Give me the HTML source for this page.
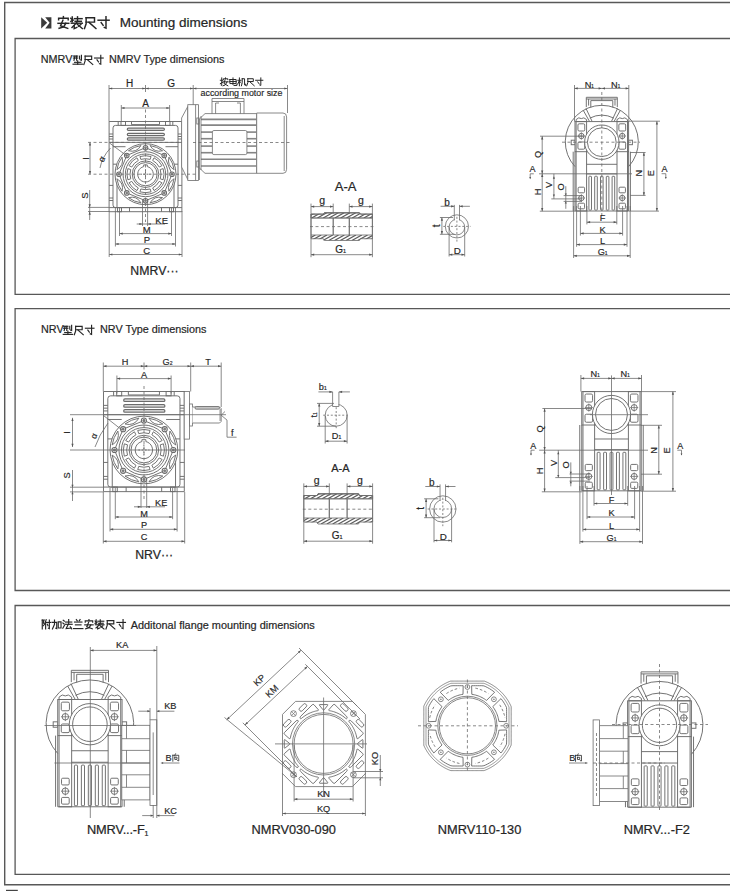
<!DOCTYPE html>
<html><head><meta charset="utf-8"><style>
html,body{margin:0;padding:0;background:#fff;width:730px;height:891px;overflow:hidden}
svg{display:block}
</style></head><body>
<svg width="730" height="891" viewBox="0 0 730 891" font-family="Liberation Sans, sans-serif">
<rect width="730" height="891" fill="#fff"/>
<path d="M 740 2.5 H 4.7 V 884.7 H 740" fill="none" stroke="#585858" stroke-width="1.4"/>
<path d="M 740 38.5 H 15.1 V 294.3 H 740" fill="none" stroke="#585858" stroke-width="1.3"/>
<path d="M 740 308.6 H 15.1 V 590.5 H 740" fill="none" stroke="#585858" stroke-width="1.3"/>
<path d="M 740 605.5 H 15.1 V 874.3 H 740" fill="none" stroke="#585858" stroke-width="1.3"/>
<rect x="6" y="889.8" width="11.8" height="2" fill="#444"/>
<path d="M41.2 17.2 L41.2 28.4 L47.2 22.8 Z" fill="#3a3a3a"/>
<path d="M45.2 17.2 L51.4 17.2 L51.4 28.4 L45.2 28.4 L49.6 22.8 Z" fill="#3a3a3a"/>
<polyline points="63.4,16.62 63.4,18.29" fill="none" stroke="#262626" stroke-width="1.45" stroke-linecap="square" stroke-linejoin="miter"/>
<polyline points="58.61,19.73 58.61,18.29 68.19,18.29 68.19,19.73" fill="none" stroke="#262626" stroke-width="1.45" stroke-linecap="square" stroke-linejoin="miter"/>
<polyline points="58.01,23.32 68.79,23.32" fill="none" stroke="#262626" stroke-width="1.45" stroke-linecap="square" stroke-linejoin="miter"/>
<polyline points="62.92,20.21 60.53,25.71 67.71,28.34" fill="none" stroke="#262626" stroke-width="1.45" stroke-linecap="square" stroke-linejoin="miter"/>
<polyline points="65.79,23.32 63.64,26.91 59.09,28.34" fill="none" stroke="#262626" stroke-width="1.45" stroke-linecap="square" stroke-linejoin="miter"/>
<polyline points="72.25,16.98 72.25,21.88" fill="none" stroke="#262626" stroke-width="1.45" stroke-linecap="square" stroke-linejoin="miter"/>
<polyline points="70.82,18.29 72.25,19.73" fill="none" stroke="#262626" stroke-width="1.45" stroke-linecap="square" stroke-linejoin="miter"/>
<polyline points="70.82,21.4 73.21,20.21" fill="none" stroke="#262626" stroke-width="1.45" stroke-linecap="square" stroke-linejoin="miter"/>
<polyline points="77.52,16.86 77.52,21.16" fill="none" stroke="#262626" stroke-width="1.45" stroke-linecap="square" stroke-linejoin="miter"/>
<polyline points="74.41,18.65 82.07,18.65" fill="none" stroke="#262626" stroke-width="1.45" stroke-linecap="square" stroke-linejoin="miter"/>
<polyline points="75.12,21.28 81.35,21.28" fill="none" stroke="#262626" stroke-width="1.45" stroke-linecap="square" stroke-linejoin="miter"/>
<polyline points="76.8,21.76 76.8,22.96" fill="none" stroke="#262626" stroke-width="1.45" stroke-linecap="square" stroke-linejoin="miter"/>
<polyline points="71.29,23.2 82.31,23.2" fill="none" stroke="#262626" stroke-width="1.45" stroke-linecap="square" stroke-linejoin="miter"/>
<polyline points="75.84,23.56 72.01,27.39" fill="none" stroke="#262626" stroke-width="1.45" stroke-linecap="square" stroke-linejoin="miter"/>
<polyline points="74.17,25.71 74.17,28.58 76.8,27.39" fill="none" stroke="#262626" stroke-width="1.45" stroke-linecap="square" stroke-linejoin="miter"/>
<polyline points="77.28,24.28 82.31,28.58" fill="none" stroke="#262626" stroke-width="1.45" stroke-linecap="square" stroke-linejoin="miter"/>
<polyline points="80.87,24.51 78.48,26.19" fill="none" stroke="#262626" stroke-width="1.45" stroke-linecap="square" stroke-linejoin="miter"/>
<polyline points="86.13,17.81 94.51,17.81 94.51,22.12 86.13,22.12" fill="none" stroke="#262626" stroke-width="1.45" stroke-linecap="square" stroke-linejoin="miter"/>
<polyline points="86.13,17.81 86.13,23.8 84.46,28.58" fill="none" stroke="#262626" stroke-width="1.45" stroke-linecap="square" stroke-linejoin="miter"/>
<polyline points="89,22.36 95.94,28.58" fill="none" stroke="#262626" stroke-width="1.45" stroke-linecap="square" stroke-linejoin="miter"/>
<polyline points="98.09,20.21 109.11,20.21" fill="none" stroke="#262626" stroke-width="1.45" stroke-linecap="square" stroke-linejoin="miter"/>
<polyline points="105.99,16.62 105.99,28.11 104.32,27.39" fill="none" stroke="#262626" stroke-width="1.45" stroke-linecap="square" stroke-linejoin="miter"/>
<polyline points="101.21,22.6 103.12,25.23" fill="none" stroke="#262626" stroke-width="1.45" stroke-linecap="square" stroke-linejoin="miter"/>
<text x="119.8" y="26.7" font-size="13.5" text-anchor="start" fill="#262626" stroke="#262626" stroke-width="0.22" font-family="Liberation Sans">Mounting dimensions</text>
<text x="40.8" y="62.8" font-size="10.8" text-anchor="start" fill="#262626" stroke="#262626" stroke-width="0.19" font-family="Liberation Sans">NMRV</text>
<polyline points="73.41,56.08 77.7,56.08" fill="none" stroke="#262626" stroke-width="1.15" stroke-linecap="square" stroke-linejoin="miter"/>
<polyline points="73.41,58.03 77.7,58.03" fill="none" stroke="#262626" stroke-width="1.15" stroke-linecap="square" stroke-linejoin="miter"/>
<polyline points="74.9,56.17 73.97,60.27" fill="none" stroke="#262626" stroke-width="1.15" stroke-linecap="square" stroke-linejoin="miter"/>
<polyline points="76.58,56.17 76.58,60.27" fill="none" stroke="#262626" stroke-width="1.15" stroke-linecap="square" stroke-linejoin="miter"/>
<polyline points="79.57,56.17 79.57,58.97" fill="none" stroke="#262626" stroke-width="1.15" stroke-linecap="square" stroke-linejoin="miter"/>
<polyline points="81.43,55.24 81.43,60.27 80.5,59.9" fill="none" stroke="#262626" stroke-width="1.15" stroke-linecap="square" stroke-linejoin="miter"/>
<polyline points="77.7,60.83 77.7,64.1" fill="none" stroke="#262626" stroke-width="1.15" stroke-linecap="square" stroke-linejoin="miter"/>
<polyline points="74.53,62.33 80.87,62.33" fill="none" stroke="#262626" stroke-width="1.15" stroke-linecap="square" stroke-linejoin="miter"/>
<polyline points="73.04,64.19 82.36,64.19" fill="none" stroke="#262626" stroke-width="1.15" stroke-linecap="square" stroke-linejoin="miter"/>
<polyline points="85.13,56.17 91.66,56.17 91.66,59.53 85.13,59.53" fill="none" stroke="#262626" stroke-width="1.15" stroke-linecap="square" stroke-linejoin="miter"/>
<polyline points="85.13,56.17 85.13,60.83 83.82,64.56" fill="none" stroke="#262626" stroke-width="1.15" stroke-linecap="square" stroke-linejoin="miter"/>
<polyline points="87.37,59.71 92.78,64.56" fill="none" stroke="#262626" stroke-width="1.15" stroke-linecap="square" stroke-linejoin="miter"/>
<polyline points="94.61,58.03 103.19,58.03" fill="none" stroke="#262626" stroke-width="1.15" stroke-linecap="square" stroke-linejoin="miter"/>
<polyline points="100.77,55.24 100.77,64.19 99.46,63.63" fill="none" stroke="#262626" stroke-width="1.15" stroke-linecap="square" stroke-linejoin="miter"/>
<polyline points="97.03,59.9 98.53,61.95" fill="none" stroke="#262626" stroke-width="1.15" stroke-linecap="square" stroke-linejoin="miter"/>
<text x="109" y="62.8" font-size="10.8" text-anchor="start" fill="#262626" stroke="#262626" stroke-width="0.19" font-family="Liberation Sans">NMRV Type dimensions</text>
<text x="41" y="333" font-size="10.8" text-anchor="start" fill="#262626" stroke="#262626" stroke-width="0.19" font-family="Liberation Sans">NRV</text>
<polyline points="63.61,326.28 67.9,326.28" fill="none" stroke="#262626" stroke-width="1.15" stroke-linecap="square" stroke-linejoin="miter"/>
<polyline points="63.61,328.23 67.9,328.23" fill="none" stroke="#262626" stroke-width="1.15" stroke-linecap="square" stroke-linejoin="miter"/>
<polyline points="65.1,326.37 64.17,330.47" fill="none" stroke="#262626" stroke-width="1.15" stroke-linecap="square" stroke-linejoin="miter"/>
<polyline points="66.78,326.37 66.78,330.47" fill="none" stroke="#262626" stroke-width="1.15" stroke-linecap="square" stroke-linejoin="miter"/>
<polyline points="69.77,326.37 69.77,329.17" fill="none" stroke="#262626" stroke-width="1.15" stroke-linecap="square" stroke-linejoin="miter"/>
<polyline points="71.63,325.44 71.63,330.47 70.7,330.1" fill="none" stroke="#262626" stroke-width="1.15" stroke-linecap="square" stroke-linejoin="miter"/>
<polyline points="67.9,331.03 67.9,334.3" fill="none" stroke="#262626" stroke-width="1.15" stroke-linecap="square" stroke-linejoin="miter"/>
<polyline points="64.73,332.53 71.07,332.53" fill="none" stroke="#262626" stroke-width="1.15" stroke-linecap="square" stroke-linejoin="miter"/>
<polyline points="63.24,334.39 72.56,334.39" fill="none" stroke="#262626" stroke-width="1.15" stroke-linecap="square" stroke-linejoin="miter"/>
<polyline points="75.63,326.37 82.16,326.37 82.16,329.73 75.63,329.73" fill="none" stroke="#262626" stroke-width="1.15" stroke-linecap="square" stroke-linejoin="miter"/>
<polyline points="75.63,326.37 75.63,331.03 74.32,334.76" fill="none" stroke="#262626" stroke-width="1.15" stroke-linecap="square" stroke-linejoin="miter"/>
<polyline points="77.87,329.91 83.28,334.76" fill="none" stroke="#262626" stroke-width="1.15" stroke-linecap="square" stroke-linejoin="miter"/>
<polyline points="85.41,328.23 93.99,328.23" fill="none" stroke="#262626" stroke-width="1.15" stroke-linecap="square" stroke-linejoin="miter"/>
<polyline points="91.57,325.44 91.57,334.39 90.26,333.83" fill="none" stroke="#262626" stroke-width="1.15" stroke-linecap="square" stroke-linejoin="miter"/>
<polyline points="87.83,330.1 89.33,332.15" fill="none" stroke="#262626" stroke-width="1.15" stroke-linecap="square" stroke-linejoin="miter"/>
<text x="100" y="333" font-size="10.8" text-anchor="start" fill="#262626" stroke="#262626" stroke-width="0.19" font-family="Liberation Sans">NRV Type dimensions</text>
<polyline points="42.27,620.1 42.27,628.96" fill="none" stroke="#262626" stroke-width="1.15" stroke-linecap="square" stroke-linejoin="miter"/>
<polyline points="42.27,620.1 44.13,620.1 43.2,622.43 44.51,624.3 43.2,625.79" fill="none" stroke="#262626" stroke-width="1.15" stroke-linecap="square" stroke-linejoin="miter"/>
<polyline points="46.19,619.64 44.88,623.37" fill="none" stroke="#262626" stroke-width="1.15" stroke-linecap="square" stroke-linejoin="miter"/>
<polyline points="45.63,622.06 45.63,628.96" fill="none" stroke="#262626" stroke-width="1.15" stroke-linecap="square" stroke-linejoin="miter"/>
<polyline points="46.56,622.43 50.66,622.43" fill="none" stroke="#262626" stroke-width="1.15" stroke-linecap="square" stroke-linejoin="miter"/>
<polyline points="49.36,620.01 49.36,628.59 48.43,628.22" fill="none" stroke="#262626" stroke-width="1.15" stroke-linecap="square" stroke-linejoin="miter"/>
<polyline points="47.31,624.3 48.05,625.79" fill="none" stroke="#262626" stroke-width="1.15" stroke-linecap="square" stroke-linejoin="miter"/>
<polyline points="52.08,622.43 56.74,622.43 56.74,628.59 55.81,628.22" fill="none" stroke="#262626" stroke-width="1.15" stroke-linecap="square" stroke-linejoin="miter"/>
<polyline points="54.5,620.01 54.5,624.3 52.45,628.96" fill="none" stroke="#262626" stroke-width="1.15" stroke-linecap="square" stroke-linejoin="miter"/>
<polyline points="58.23,621.87 61.03,621.87 61.03,628.03 58.23,628.03 58.23,621.87" fill="none" stroke="#262626" stroke-width="1.15" stroke-linecap="square" stroke-linejoin="miter"/>
<polyline points="63.19,620.2 64.31,621.13" fill="none" stroke="#262626" stroke-width="1.15" stroke-linecap="square" stroke-linejoin="miter"/>
<polyline points="62.82,622.99 63.94,623.93" fill="none" stroke="#262626" stroke-width="1.15" stroke-linecap="square" stroke-linejoin="miter"/>
<polyline points="62.82,628.22 64.5,625.23" fill="none" stroke="#262626" stroke-width="1.15" stroke-linecap="square" stroke-linejoin="miter"/>
<polyline points="65.61,622.06 71.77,622.06" fill="none" stroke="#262626" stroke-width="1.15" stroke-linecap="square" stroke-linejoin="miter"/>
<polyline points="68.69,619.64 68.69,624.3" fill="none" stroke="#262626" stroke-width="1.15" stroke-linecap="square" stroke-linejoin="miter"/>
<polyline points="65.24,624.3 72.14,624.3" fill="none" stroke="#262626" stroke-width="1.15" stroke-linecap="square" stroke-linejoin="miter"/>
<polyline points="68.04,624.67 66.17,628.59 71.21,628.03" fill="none" stroke="#262626" stroke-width="1.15" stroke-linecap="square" stroke-linejoin="miter"/>
<polyline points="70.28,626.73 71.77,628.96" fill="none" stroke="#262626" stroke-width="1.15" stroke-linecap="square" stroke-linejoin="miter"/>
<polyline points="76.35,619.64 77.29,620.94" fill="none" stroke="#262626" stroke-width="1.15" stroke-linecap="square" stroke-linejoin="miter"/>
<polyline points="80.09,619.64 79.15,620.94" fill="none" stroke="#262626" stroke-width="1.15" stroke-linecap="square" stroke-linejoin="miter"/>
<polyline points="74.49,622.06 81.95,622.06" fill="none" stroke="#262626" stroke-width="1.15" stroke-linecap="square" stroke-linejoin="miter"/>
<polyline points="75.42,624.86 81.02,624.86" fill="none" stroke="#262626" stroke-width="1.15" stroke-linecap="square" stroke-linejoin="miter"/>
<polyline points="73.56,628.59 82.88,628.59" fill="none" stroke="#262626" stroke-width="1.15" stroke-linecap="square" stroke-linejoin="miter"/>
<polyline points="88.96,619.64 88.96,620.94" fill="none" stroke="#262626" stroke-width="1.15" stroke-linecap="square" stroke-linejoin="miter"/>
<polyline points="85.23,622.06 85.23,620.94 92.69,620.94 92.69,622.06" fill="none" stroke="#262626" stroke-width="1.15" stroke-linecap="square" stroke-linejoin="miter"/>
<polyline points="84.76,624.86 93.16,624.86" fill="none" stroke="#262626" stroke-width="1.15" stroke-linecap="square" stroke-linejoin="miter"/>
<polyline points="88.59,622.43 86.72,626.73 92.32,628.78" fill="none" stroke="#262626" stroke-width="1.15" stroke-linecap="square" stroke-linejoin="miter"/>
<polyline points="90.83,624.86 89.15,627.66 85.6,628.78" fill="none" stroke="#262626" stroke-width="1.15" stroke-linecap="square" stroke-linejoin="miter"/>
<polyline points="96.16,619.92 96.16,623.74" fill="none" stroke="#262626" stroke-width="1.15" stroke-linecap="square" stroke-linejoin="miter"/>
<polyline points="95.04,620.94 96.16,622.06" fill="none" stroke="#262626" stroke-width="1.15" stroke-linecap="square" stroke-linejoin="miter"/>
<polyline points="95.04,623.37 96.9,622.43" fill="none" stroke="#262626" stroke-width="1.15" stroke-linecap="square" stroke-linejoin="miter"/>
<polyline points="100.26,619.82 100.26,623.18" fill="none" stroke="#262626" stroke-width="1.15" stroke-linecap="square" stroke-linejoin="miter"/>
<polyline points="97.83,621.22 103.8,621.22" fill="none" stroke="#262626" stroke-width="1.15" stroke-linecap="square" stroke-linejoin="miter"/>
<polyline points="98.39,623.27 103.24,623.27" fill="none" stroke="#262626" stroke-width="1.15" stroke-linecap="square" stroke-linejoin="miter"/>
<polyline points="99.7,623.65 99.7,624.58" fill="none" stroke="#262626" stroke-width="1.15" stroke-linecap="square" stroke-linejoin="miter"/>
<polyline points="95.41,624.77 103.99,624.77" fill="none" stroke="#262626" stroke-width="1.15" stroke-linecap="square" stroke-linejoin="miter"/>
<polyline points="98.95,625.05 95.97,628.03" fill="none" stroke="#262626" stroke-width="1.15" stroke-linecap="square" stroke-linejoin="miter"/>
<polyline points="97.65,626.73 97.65,628.96 99.7,628.03" fill="none" stroke="#262626" stroke-width="1.15" stroke-linecap="square" stroke-linejoin="miter"/>
<polyline points="100.07,625.61 103.99,628.96" fill="none" stroke="#262626" stroke-width="1.15" stroke-linecap="square" stroke-linejoin="miter"/>
<polyline points="102.87,625.79 101.01,627.1" fill="none" stroke="#262626" stroke-width="1.15" stroke-linecap="square" stroke-linejoin="miter"/>
<polyline points="107.27,620.57 113.8,620.57 113.8,623.93 107.27,623.93" fill="none" stroke="#262626" stroke-width="1.15" stroke-linecap="square" stroke-linejoin="miter"/>
<polyline points="107.27,620.57 107.27,625.23 105.96,628.96" fill="none" stroke="#262626" stroke-width="1.15" stroke-linecap="square" stroke-linejoin="miter"/>
<polyline points="109.51,624.11 114.92,628.96" fill="none" stroke="#262626" stroke-width="1.15" stroke-linecap="square" stroke-linejoin="miter"/>
<polyline points="116.89,622.43 125.47,622.43" fill="none" stroke="#262626" stroke-width="1.15" stroke-linecap="square" stroke-linejoin="miter"/>
<polyline points="123.05,619.64 123.05,628.59 121.74,628.03" fill="none" stroke="#262626" stroke-width="1.15" stroke-linecap="square" stroke-linejoin="miter"/>
<polyline points="119.31,624.3 120.81,626.35" fill="none" stroke="#262626" stroke-width="1.15" stroke-linecap="square" stroke-linejoin="miter"/>
<text x="130.7" y="628.6" font-size="10.9" text-anchor="start" fill="#262626" stroke="#262626" stroke-width="0.2" font-family="Liberation Sans">Additonal flange mounting dimensions</text>
<g transform="translate(145.5 174.2) scale(1)">
<line x1="-36.4" y1="-52.7" x2="-36.4" y2="37.5" stroke="#6b6b6b" stroke-width="0.95"/>
<line x1="36.4" y1="-52.7" x2="36.4" y2="37.5" stroke="#6b6b6b" stroke-width="0.95"/>
<path d="M -36.4 -52.7 H 36.4" fill="none" stroke="#6b6b6b" stroke-width="0.95"/>
<path d="M -27.3 -52.7 V -48.8 M 27.3 -52.7 V -48.8" fill="none" stroke="#6b6b6b" stroke-width="0.95"/>
<rect x="-24.5" y="-52.7" width="4.5" height="3.9" fill="none" stroke="#6b6b6b" stroke-width="0.95"/>
<rect x="20" y="-52.7" width="4.5" height="3.9" fill="none" stroke="#6b6b6b" stroke-width="0.95"/>
<path d="M -14 -52.7 V -49.6 H 14 V -52.7" fill="none" stroke="#6b6b6b" stroke-width="0.95"/>
<rect x="-32.5" y="-48.8" width="65" height="82.2" fill="none" stroke="#6b6b6b" stroke-width="0.95" rx="2.5"/>
<rect x="-18.2" y="-46.05" width="37.1" height="2.3" fill="#f2f2f2" stroke="#6b6b6b" stroke-width="1.2349999999999999" rx="1.15"/>
<rect x="-18.2" y="-40.85" width="37.1" height="2.3" fill="#f2f2f2" stroke="#6b6b6b" stroke-width="1.2349999999999999" rx="1.15"/>
<rect x="-18.2" y="-36.35" width="37.1" height="2.3" fill="#f2f2f2" stroke="#6b6b6b" stroke-width="1.2349999999999999" rx="1.15"/>
<line x1="-36.4" y1="-31.8" x2="36.4" y2="-31.8" stroke="#6b6b6b" stroke-width="0.95"/>
<line x1="-32.5" y1="-27.5" x2="-20" y2="-27.5" stroke="#6b6b6b" stroke-width="0.95"/>
<line x1="20" y1="-27.5" x2="32.5" y2="-27.5" stroke="#6b6b6b" stroke-width="0.95"/>
<line x1="-36.4" y1="-40.2" x2="-32.5" y2="-40.2" stroke="#6b6b6b" stroke-width="0.95"/>
<line x1="-36.4" y1="-37.7" x2="-32.5" y2="-37.7" stroke="#6b6b6b" stroke-width="0.95"/>
<line x1="-36.4" y1="-35.2" x2="-32.5" y2="-35.2" stroke="#6b6b6b" stroke-width="0.95"/>
<line x1="-36.4" y1="11.2" x2="-32.5" y2="11.2" stroke="#6b6b6b" stroke-width="0.95"/>
<line x1="-36.4" y1="23.8" x2="-32.5" y2="23.8" stroke="#6b6b6b" stroke-width="0.95"/>
<line x1="-36.4" y1="26.3" x2="-32.5" y2="26.3" stroke="#6b6b6b" stroke-width="0.95"/>
<line x1="36.4" y1="-40.2" x2="32.5" y2="-40.2" stroke="#6b6b6b" stroke-width="0.95"/>
<line x1="36.4" y1="-37.7" x2="32.5" y2="-37.7" stroke="#6b6b6b" stroke-width="0.95"/>
<line x1="36.4" y1="-35.2" x2="32.5" y2="-35.2" stroke="#6b6b6b" stroke-width="0.95"/>
<line x1="36.4" y1="11.2" x2="32.5" y2="11.2" stroke="#6b6b6b" stroke-width="0.95"/>
<line x1="36.4" y1="23.8" x2="32.5" y2="23.8" stroke="#6b6b6b" stroke-width="0.95"/>
<line x1="36.4" y1="26.3" x2="32.5" y2="26.3" stroke="#6b6b6b" stroke-width="0.95"/>
<line x1="-32.5" y1="-10" x2="-28.5" y2="-10" stroke="#6b6b6b" stroke-width="0.95"/>
<line x1="-28.5" y1="-10" x2="-28.5" y2="33.4" stroke="#6b6b6b" stroke-width="0.95"/>
<line x1="32.5" y1="-10" x2="28.5" y2="-10" stroke="#6b6b6b" stroke-width="0.95"/>
<line x1="28.5" y1="-10" x2="28.5" y2="33.4" stroke="#6b6b6b" stroke-width="0.95"/>
<line x1="-36.4" y1="33.4" x2="36.4" y2="33.4" stroke="#6b6b6b" stroke-width="0.95"/>
<line x1="-36.4" y1="37.5" x2="36.4" y2="37.5" stroke="#6b6b6b" stroke-width="0.95"/>
<rect x="-28" y="33.4" width="4" height="4.1" fill="none" stroke="#6b6b6b" stroke-width="0.95"/>
<rect x="24" y="33.4" width="4" height="4.1" fill="none" stroke="#6b6b6b" stroke-width="0.95"/>
<path d="M -16 33.4 V 37.5 M 16 33.4 V 37.5" fill="none" stroke="#6b6b6b" stroke-width="0.95"/>
<circle cx="0" cy="0" r="30.5" fill="#fff" stroke="#6b6b6b" stroke-width="0.95"/>
<path d="M 0 -26.5 L -18.74 -18.74" fill="none" stroke="#6b6b6b" stroke-width="0.95"/>
<path d="M -4.54 -28.64 A 29.0 29.0 0 0 0 -17.05 -23.46 Q -8.82 -21.29 -4.54 -28.64 Z" fill="none" stroke="#6b6b6b" stroke-width="0.95"/>
<path d="M -18.74 -18.74 L -26.5 -0" fill="none" stroke="#6b6b6b" stroke-width="0.95"/>
<path d="M -23.46 -17.05 A 29.0 29.0 0 0 0 -28.64 -4.54 Q -21.29 -8.82 -23.46 -17.05 Z" fill="none" stroke="#6b6b6b" stroke-width="0.95"/>
<path d="M -26.5 -0 L -18.74 18.74" fill="none" stroke="#6b6b6b" stroke-width="0.95"/>
<path d="M -28.64 4.54 A 29.0 29.0 0 0 0 -23.46 17.05 Q -21.29 8.82 -28.64 4.54 Z" fill="none" stroke="#6b6b6b" stroke-width="0.95"/>
<path d="M -18.74 18.74 L -0 26.5" fill="none" stroke="#6b6b6b" stroke-width="0.95"/>
<path d="M -17.05 23.46 A 29.0 29.0 0 0 0 -4.54 28.64 Q -8.82 21.29 -17.05 23.46 Z" fill="none" stroke="#6b6b6b" stroke-width="0.95"/>
<path d="M -0 26.5 L 18.74 18.74" fill="none" stroke="#6b6b6b" stroke-width="0.95"/>
<path d="M 4.54 28.64 A 29.0 29.0 0 0 0 17.05 23.46 Q 8.82 21.29 4.54 28.64 Z" fill="none" stroke="#6b6b6b" stroke-width="0.95"/>
<path d="M 18.74 18.74 L 26.5 0" fill="none" stroke="#6b6b6b" stroke-width="0.95"/>
<path d="M 23.46 17.05 A 29.0 29.0 0 0 0 28.64 4.54 Q 21.29 8.82 23.46 17.05 Z" fill="none" stroke="#6b6b6b" stroke-width="0.95"/>
<path d="M 26.5 0 L 18.74 -18.74" fill="none" stroke="#6b6b6b" stroke-width="0.95"/>
<path d="M 28.64 -4.54 A 29.0 29.0 0 0 0 23.46 -17.05 Q 21.29 -8.82 28.64 -4.54 Z" fill="none" stroke="#6b6b6b" stroke-width="0.95"/>
<path d="M 18.74 -18.74 L 0 -26.5" fill="none" stroke="#6b6b6b" stroke-width="0.95"/>
<path d="M 17.05 -23.46 A 29.0 29.0 0 0 0 4.54 -28.64 Q 8.82 -21.29 17.05 -23.46 Z" fill="none" stroke="#6b6b6b" stroke-width="0.95"/>
<circle cx="0" cy="0" r="22.5" fill="none" stroke="#6b6b6b" stroke-width="0.95"/>
<circle cx="0" cy="0" r="20.2" fill="none" stroke="#6b6b6b" stroke-width="0.95"/>
<path d="M 16.41 8.54 A 18.5 18.5 0 0 1 8.54 16.41 L 7.16 13.75 A 15.5 15.5 0 0 0 13.75 7.16 Z" fill="none" stroke="#6b6b6b" stroke-width="0.95"/>
<path d="M 5.56 17.64 A 18.5 18.5 0 0 1 -5.56 17.64 L -4.66 14.78 A 15.5 15.5 0 0 0 4.66 14.78 Z" fill="none" stroke="#6b6b6b" stroke-width="0.95"/>
<path d="M -8.54 16.41 A 18.5 18.5 0 0 1 -16.41 8.54 L -13.75 7.16 A 15.5 15.5 0 0 0 -7.16 13.75 Z" fill="none" stroke="#6b6b6b" stroke-width="0.95"/>
<path d="M -17.64 5.56 A 18.5 18.5 0 0 1 -17.64 -5.56 L -14.78 -4.66 A 15.5 15.5 0 0 0 -14.78 4.66 Z" fill="none" stroke="#6b6b6b" stroke-width="0.95"/>
<path d="M -16.41 -8.54 A 18.5 18.5 0 0 1 -8.54 -16.41 L -7.16 -13.75 A 15.5 15.5 0 0 0 -13.75 -7.16 Z" fill="none" stroke="#6b6b6b" stroke-width="0.95"/>
<path d="M -5.56 -17.64 A 18.5 18.5 0 0 1 5.56 -17.64 L 4.66 -14.78 A 15.5 15.5 0 0 0 -4.66 -14.78 Z" fill="none" stroke="#6b6b6b" stroke-width="0.95"/>
<path d="M 8.54 -16.41 A 18.5 18.5 0 0 1 16.41 -8.54 L 13.75 -7.16 A 15.5 15.5 0 0 0 7.16 -13.75 Z" fill="none" stroke="#6b6b6b" stroke-width="0.95"/>
<path d="M 17.64 -5.56 A 18.5 18.5 0 0 1 17.64 5.56 L 14.78 4.66 A 15.5 15.5 0 0 0 14.78 -4.66 Z" fill="none" stroke="#6b6b6b" stroke-width="0.95"/>
<circle cx="0" cy="0" r="13.3" fill="none" stroke="#6b6b6b" stroke-width="0.95"/>
<circle cx="0" cy="0" r="11.6" fill="none" stroke="#6b6b6b" stroke-width="0.95"/>
<path d="M -1.8 -7.6 V -9.3 H 1.8 V -7.6 A 7.8 7.8 0 1 1 -1.8 -7.6 Z" fill="#fff" stroke="#6b6b6b" stroke-width="0.95"/>
<circle cx="0" cy="-26.5" r="2.3" fill="#fff" stroke="#6b6b6b" stroke-width="1.045"/>
<circle cx="0" cy="-26.5" r="1" fill="#888" stroke="#6b6b6b" stroke-width="0.76"/>
<circle cx="-18.74" cy="-18.74" r="2.3" fill="#fff" stroke="#6b6b6b" stroke-width="1.045"/>
<circle cx="-18.74" cy="-18.74" r="1" fill="#888" stroke="#6b6b6b" stroke-width="0.76"/>
<circle cx="-26.5" cy="-0" r="2.3" fill="#fff" stroke="#6b6b6b" stroke-width="1.045"/>
<circle cx="-26.5" cy="-0" r="1" fill="#888" stroke="#6b6b6b" stroke-width="0.76"/>
<circle cx="-18.74" cy="18.74" r="2.3" fill="#fff" stroke="#6b6b6b" stroke-width="1.045"/>
<circle cx="-18.74" cy="18.74" r="1" fill="#888" stroke="#6b6b6b" stroke-width="0.76"/>
<circle cx="-0" cy="26.5" r="2.3" fill="#fff" stroke="#6b6b6b" stroke-width="1.045"/>
<circle cx="-0" cy="26.5" r="1" fill="#888" stroke="#6b6b6b" stroke-width="0.76"/>
<circle cx="18.74" cy="18.74" r="2.3" fill="#fff" stroke="#6b6b6b" stroke-width="1.045"/>
<circle cx="18.74" cy="18.74" r="1" fill="#888" stroke="#6b6b6b" stroke-width="0.76"/>
<circle cx="26.5" cy="0" r="2.3" fill="#fff" stroke="#6b6b6b" stroke-width="1.045"/>
<circle cx="26.5" cy="0" r="1" fill="#888" stroke="#6b6b6b" stroke-width="0.76"/>
<circle cx="18.74" cy="-18.74" r="2.3" fill="#fff" stroke="#6b6b6b" stroke-width="1.045"/>
<circle cx="18.74" cy="-18.74" r="1" fill="#888" stroke="#6b6b6b" stroke-width="0.76"/>
<line x1="0" y1="-5" x2="0" y2="5" stroke="#6b6b6b" stroke-width="0.95" stroke-dasharray="1.5 1.5"/>
<line x1="-5" y1="0" x2="5" y2="0" stroke="#6b6b6b" stroke-width="0.95" stroke-dasharray="1.5 1.5"/>
</g>
<polygon points="181.6,118 187.8,106.5 187.8,179.5 181.6,167" fill="#fff" stroke="#6b6b6b" stroke-width="0.8"/>
<rect x="187.8" y="104.7" width="10.7" height="75.7" fill="#fff" stroke="#6b6b6b" stroke-width="0.8"/>
<line x1="195.6" y1="104.7" x2="195.6" y2="180.4" stroke="#6b6b6b" stroke-width="0.8"/>
<rect x="196.8" y="118" width="2.4" height="6" fill="none" stroke="#6b6b6b" stroke-width="0.8"/>
<rect x="196.8" y="161" width="2.4" height="6" fill="none" stroke="#6b6b6b" stroke-width="0.8"/>
<path d="M 199.4 180 V 119 L 205 113.6 H 256.7 V 173.3 H 205 L 199.4 168" fill="#fff" stroke="#6b6b6b" stroke-width="0.8"/>
<line x1="201" y1="119.4" x2="256.7" y2="119.4" stroke="#858585" stroke-width="1.6"/>
<line x1="201" y1="125.1" x2="256.7" y2="125.1" stroke="#858585" stroke-width="1.6"/>
<line x1="201" y1="132.1" x2="212.4" y2="132.1" stroke="#858585" stroke-width="1.6"/>
<line x1="246.9" y1="132.1" x2="256.7" y2="132.1" stroke="#858585" stroke-width="1.6"/>
<line x1="201" y1="138.7" x2="212.4" y2="138.7" stroke="#858585" stroke-width="1.6"/>
<line x1="246.9" y1="138.7" x2="256.7" y2="138.7" stroke="#858585" stroke-width="1.6"/>
<line x1="201" y1="146.1" x2="212.4" y2="146.1" stroke="#858585" stroke-width="1.6"/>
<line x1="246.9" y1="146.1" x2="256.7" y2="146.1" stroke="#858585" stroke-width="1.6"/>
<line x1="201" y1="152.7" x2="212.4" y2="152.7" stroke="#858585" stroke-width="1.6"/>
<line x1="246.9" y1="152.7" x2="256.7" y2="152.7" stroke="#858585" stroke-width="1.6"/>
<line x1="201" y1="159.2" x2="256.7" y2="159.2" stroke="#858585" stroke-width="1.6"/>
<line x1="201" y1="166" x2="256.7" y2="166" stroke="#858585" stroke-width="1.6"/>
<line x1="201" y1="116" x2="201" y2="170" stroke="#6b6b6b" stroke-width="0.8"/>
<rect x="212.4" y="130.5" width="34.5" height="24.1" fill="#fff" stroke="#6b6b6b" stroke-width="0.8" rx="1.5"/>
<path d="M 256.7 113 H 283 Q 286.6 113 286.6 117 V 169.3 Q 286.6 173.3 283 173.3 H 256.7 Z" fill="#fff" stroke="#6b6b6b" stroke-width="0.8"/>
<line x1="284.2" y1="116" x2="284.2" y2="171" stroke="#6b6b6b" stroke-width="0.8"/>
<path d="M 212 113.6 V 98.5 H 244 V 113.6" fill="none" stroke="#6b6b6b" stroke-width="0.8"/>
<path d="M 215.6 113.6 V 103 H 219 M 240.4 113.6 V 103 H 237 M 212 101.5 H 244" fill="none" stroke="#6b6b6b" stroke-width="0.8"/>
<line x1="193" y1="142.5" x2="291" y2="142.5" stroke="#6b6b6b" stroke-width="0.8" stroke-dasharray="3 2.5"/>
<line x1="109" y1="88.5" x2="287.5" y2="88.5" stroke="#6b6b6b" stroke-width="0.8"/>
<polygon points="109,88.5 112.2,87.4 112.2,89.6" fill="#555"/>
<polygon points="287.5,88.5 284.3,89.6 284.3,87.4" fill="#555"/>
<polygon points="145.5,88.5 142.3,89.6 142.3,87.4" fill="#555"/>
<polygon points="145.5,88.5 148.7,87.4 148.7,89.6" fill="#555"/>
<polygon points="193.2,88.5 190,89.6 190,87.4" fill="#555"/>
<polygon points="193.2,88.5 196.4,87.4 196.4,89.6" fill="#555"/>
<line x1="109" y1="85" x2="109" y2="121.5" stroke="#6b6b6b" stroke-width="0.8"/>
<line x1="287.5" y1="85" x2="287.5" y2="113" stroke="#6b6b6b" stroke-width="0.8"/>
<line x1="193.2" y1="85" x2="193.2" y2="104.7" stroke="#6b6b6b" stroke-width="0.8"/>
<line x1="145.5" y1="85" x2="145.5" y2="92" stroke="#6b6b6b" stroke-width="0.8"/>
<text x="129.5" y="86.8" font-size="10" text-anchor="middle" fill="#262626" stroke="#262626" stroke-width="0.18" font-family="Liberation Sans">H</text>
<text x="171.2" y="86.8" font-size="10" text-anchor="middle" fill="#262626" stroke="#262626" stroke-width="0.18" font-family="Liberation Sans">G</text>
<polyline points="220.33,80.28 222.68,80.28" fill="none" stroke="#262626" stroke-width="1" stroke-linecap="square" stroke-linejoin="miter"/>
<polyline points="221.74,77.93 221.74,85.45 221.12,85.14" fill="none" stroke="#262626" stroke-width="1" stroke-linecap="square" stroke-linejoin="miter"/>
<polyline points="220.33,83.57 222.68,82.32" fill="none" stroke="#262626" stroke-width="1" stroke-linecap="square" stroke-linejoin="miter"/>
<polyline points="225.5,77.93 225.5,78.72" fill="none" stroke="#262626" stroke-width="1" stroke-linecap="square" stroke-linejoin="miter"/>
<polyline points="223.31,79.66 223.31,78.8 227.85,78.8 227.85,79.66" fill="none" stroke="#262626" stroke-width="1" stroke-linecap="square" stroke-linejoin="miter"/>
<polyline points="223,81.85 228.17,81.85" fill="none" stroke="#262626" stroke-width="1" stroke-linecap="square" stroke-linejoin="miter"/>
<polyline points="225.03,79.97 223.94,83.42 227.85,85.77" fill="none" stroke="#262626" stroke-width="1" stroke-linecap="square" stroke-linejoin="miter"/>
<polyline points="227.07,81.85 225.19,84.98 223,85.77" fill="none" stroke="#262626" stroke-width="1" stroke-linecap="square" stroke-linejoin="miter"/>
<polyline points="229.87,79.5 236.13,79.5 236.13,83.57 229.87,83.57 229.87,79.5" fill="none" stroke="#262626" stroke-width="1" stroke-linecap="square" stroke-linejoin="miter"/>
<polyline points="229.87,81.54 236.13,81.54" fill="none" stroke="#262626" stroke-width="1" stroke-linecap="square" stroke-linejoin="miter"/>
<polyline points="233,77.93 233,84.67 233.78,85.45 236.92,85.45 236.92,84.2" fill="none" stroke="#262626" stroke-width="1" stroke-linecap="square" stroke-linejoin="miter"/>
<polyline points="237.83,80.28 240.97,80.28" fill="none" stroke="#262626" stroke-width="1" stroke-linecap="square" stroke-linejoin="miter"/>
<polyline points="239.4,77.93 239.4,85.77" fill="none" stroke="#262626" stroke-width="1" stroke-linecap="square" stroke-linejoin="miter"/>
<polyline points="239.4,80.6 237.83,83.89" fill="none" stroke="#262626" stroke-width="1" stroke-linecap="square" stroke-linejoin="miter"/>
<polyline points="239.87,81.54 240.97,82.63" fill="none" stroke="#262626" stroke-width="1" stroke-linecap="square" stroke-linejoin="miter"/>
<polyline points="242.22,78.72 242.22,82.63 241.44,85.77" fill="none" stroke="#262626" stroke-width="1" stroke-linecap="square" stroke-linejoin="miter"/>
<polyline points="242.22,78.72 244.57,78.72 244.57,84.98 245.67,85.45 245.67,84.2" fill="none" stroke="#262626" stroke-width="1" stroke-linecap="square" stroke-linejoin="miter"/>
<polyline points="247.84,78.72 253.32,78.72 253.32,81.54 247.84,81.54" fill="none" stroke="#262626" stroke-width="1" stroke-linecap="square" stroke-linejoin="miter"/>
<polyline points="247.84,78.72 247.84,82.63 246.74,85.77" fill="none" stroke="#262626" stroke-width="1" stroke-linecap="square" stroke-linejoin="miter"/>
<polyline points="249.72,81.69 254.26,85.77" fill="none" stroke="#262626" stroke-width="1" stroke-linecap="square" stroke-linejoin="miter"/>
<polyline points="255.65,80.28 262.85,80.28" fill="none" stroke="#262626" stroke-width="1" stroke-linecap="square" stroke-linejoin="miter"/>
<polyline points="260.82,77.93 260.82,85.45 259.72,84.98" fill="none" stroke="#262626" stroke-width="1" stroke-linecap="square" stroke-linejoin="miter"/>
<polyline points="257.68,81.85 258.94,83.57" fill="none" stroke="#262626" stroke-width="1" stroke-linecap="square" stroke-linejoin="miter"/>
<text x="241.5" y="96.2" font-size="8.9" text-anchor="middle" fill="#262626" stroke="#262626" stroke-width="0.16" font-family="Liberation Sans">according motor size</text>
<line x1="121.3" y1="108" x2="169.6" y2="108" stroke="#6b6b6b" stroke-width="0.8"/>
<polygon points="121.3,108 124.5,106.9 124.5,109.1" fill="#555"/>
<polygon points="169.6,108 166.4,109.1 166.4,106.9" fill="#555"/>
<line x1="121.3" y1="105" x2="121.3" y2="122" stroke="#6b6b6b" stroke-width="0.8"/>
<line x1="169.6" y1="105" x2="169.6" y2="122" stroke="#6b6b6b" stroke-width="0.8"/>
<text x="145.5" y="107.1" font-size="10" text-anchor="middle" fill="#262626" stroke="#262626" stroke-width="0.18" font-family="Liberation Sans">A</text>
<line x1="145.5" y1="109.5" x2="145.5" y2="222" stroke="#6b6b6b" stroke-width="0.8" stroke-dasharray="3 2.5"/>
<line x1="88" y1="142.4" x2="182" y2="142.4" stroke="#6b6b6b" stroke-width="0.8" stroke-dasharray="3 2.5"/>
<line x1="88" y1="174.2" x2="196" y2="174.2" stroke="#6b6b6b" stroke-width="0.8" stroke-dasharray="3 2.5"/>
<line x1="90" y1="142.4" x2="90" y2="174.2" stroke="#6b6b6b" stroke-width="0.8"/>
<polygon points="90,142.4 91.1,145.6 88.9,145.6" fill="#555"/>
<polygon points="90,174.2 88.9,171 91.1,171" fill="#555"/>
<text x="89" y="158.3" font-size="9.5" text-anchor="middle" fill="#262626" stroke="#262626" stroke-width="0.17" font-family="Liberation Sans" transform="rotate(-90 89 158.3)">I</text>
<path d="M 110.5 148 Q 102 157 100 168" fill="none" stroke="#6b6b6b" stroke-width="0.8"/>
<text x="104.6" y="160.5" font-size="9" text-anchor="middle" fill="#262626" stroke="#262626" stroke-width="0.16" font-family="Liberation Sans" transform="rotate(-62 104.6 160.5)">α</text>
<line x1="109.5" y1="143" x2="127" y2="156" stroke="#6b6b6b" stroke-width="0.8"/>
<line x1="88" y1="207.4" x2="109" y2="207.4" stroke="#6b6b6b" stroke-width="0.8"/>
<line x1="88" y1="211.5" x2="109" y2="211.5" stroke="#6b6b6b" stroke-width="0.8"/>
<line x1="89.7" y1="190" x2="89.7" y2="220" stroke="#6b6b6b" stroke-width="0.8"/>
<polygon points="89.7,207.4 88.6,204.2 90.8,204.2" fill="#555"/>
<polygon points="89.7,211.5 90.8,214.7 88.6,214.7" fill="#555"/>
<text x="87.6" y="195.5" font-size="9.5" text-anchor="middle" fill="#262626" stroke="#262626" stroke-width="0.17" font-family="Liberation Sans" transform="rotate(-90 87.6 195.5)">S</text>
<line x1="142.5" y1="200" x2="142.5" y2="226" stroke="#6b6b6b" stroke-width="0.8"/>
<line x1="147.6" y1="200" x2="147.6" y2="226" stroke="#6b6b6b" stroke-width="0.8"/>
<line x1="136.7" y1="224" x2="165" y2="224" stroke="#6b6b6b" stroke-width="0.8"/>
<polygon points="142.5,224 139.3,225.1 139.3,222.9" fill="#555"/>
<polygon points="147.6,224 150.8,222.9 150.8,225.1" fill="#555"/>
<text x="155.3" y="224.3" font-size="9.5" text-anchor="start" fill="#262626" stroke="#262626" stroke-width="0.17" font-family="Liberation Sans">KE</text>
<line x1="119.5" y1="207" x2="119.5" y2="236" stroke="#6b6b6b" stroke-width="0.8"/>
<line x1="171.5" y1="207" x2="171.5" y2="236" stroke="#6b6b6b" stroke-width="0.8"/>
<line x1="119.5" y1="233.6" x2="171.5" y2="233.6" stroke="#6b6b6b" stroke-width="0.8"/>
<polygon points="119.5,233.6 122.7,232.5 122.7,234.7" fill="#555"/>
<polygon points="171.5,233.6 168.3,234.7 168.3,232.5" fill="#555"/>
<text x="146.8" y="232.7" font-size="9.5" text-anchor="middle" fill="#262626" stroke="#262626" stroke-width="0.17" font-family="Liberation Sans">M</text>
<line x1="115.4" y1="207" x2="115.4" y2="246.5" stroke="#6b6b6b" stroke-width="0.8"/>
<line x1="175.5" y1="207" x2="175.5" y2="246.5" stroke="#6b6b6b" stroke-width="0.8"/>
<line x1="115.4" y1="244" x2="175.5" y2="244" stroke="#6b6b6b" stroke-width="0.8"/>
<polygon points="115.4,244 118.6,242.9 118.6,245.1" fill="#555"/>
<polygon points="175.5,244 172.3,245.1 172.3,242.9" fill="#555"/>
<text x="146.8" y="243.1" font-size="9.5" text-anchor="middle" fill="#262626" stroke="#262626" stroke-width="0.17" font-family="Liberation Sans">P</text>
<line x1="109.2" y1="211" x2="109.2" y2="257" stroke="#6b6b6b" stroke-width="0.8"/>
<line x1="182" y1="211" x2="182" y2="257" stroke="#6b6b6b" stroke-width="0.8"/>
<line x1="109.2" y1="254.5" x2="182" y2="254.5" stroke="#6b6b6b" stroke-width="0.8"/>
<polygon points="109.2,254.5 112.4,253.4 112.4,255.6" fill="#555"/>
<polygon points="182,254.5 178.8,255.6 178.8,253.4" fill="#555"/>
<text x="146.8" y="253.7" font-size="9.5" text-anchor="middle" fill="#262626" stroke="#262626" stroke-width="0.17" font-family="Liberation Sans">C</text>
<text x="154.5" y="275" font-size="12.3" text-anchor="middle" fill="#262626" stroke="#262626" stroke-width="0.22" font-family="Liberation Sans">NMRV···</text>
<path d="M 311 214 H 323.4 L 324.4 212.8 H 359.4 L 360.4 214 H 372.4 V 218 H 311 Z" fill="#fff" stroke="#6b6b6b" stroke-width="0.8"/>
<clipPath id="cp307"><rect x="311" y="212.8" width="61.4" height="5.2"/></clipPath>
<path d="M 305.8 218 L 315.16 212.8 M 311.6 218 L 320.96 212.8 M 317.4 218 L 326.76 212.8 M 323.2 218 L 332.56 212.8 M 329 218 L 338.36 212.8 M 334.8 218 L 344.16 212.8 M 340.6 218 L 349.96 212.8 M 346.4 218 L 355.76 212.8 M 352.2 218 L 361.56 212.8 M 358 218 L 367.36 212.8 M 363.8 218 L 373.16 212.8 M 369.6 218 L 378.96 212.8 M 375.4 218 L 384.76 212.8" stroke="#5e5e5e" stroke-width="1.25" clip-path="url(#cp307)"/>
<path d="M 311 214 H 323.4 L 324.4 212.8 H 359.4 L 360.4 214 H 372.4 V 218 H 311 Z" fill="none" stroke="#6b6b6b" stroke-width="0.8"/>
<rect x="310" y="210.8" width="13.4" height="2.8" fill="#fff"/>
<rect x="360.4" y="210.8" width="13" height="2.8" fill="#fff"/>
<path d="M 311 214 H 323.4 L 324.4 212.8 H 359.4 L 360.4 214 H 372.4" fill="none" stroke="#6b6b6b" stroke-width="0.8"/>
<clipPath id="cp313"><rect x="311" y="235" width="61.4" height="5.5"/></clipPath>
<path d="M 305.5 240.5 L 315.4 235 M 311.3 240.5 L 321.2 235 M 317.1 240.5 L 327 235 M 322.9 240.5 L 332.8 235 M 328.7 240.5 L 338.6 235 M 334.5 240.5 L 344.4 235 M 340.3 240.5 L 350.2 235 M 346.1 240.5 L 356 235 M 351.9 240.5 L 361.8 235 M 357.7 240.5 L 367.6 235 M 363.5 240.5 L 373.4 235 M 369.3 240.5 L 379.2 235 M 375.1 240.5 L 385 235" stroke="#5e5e5e" stroke-width="1.25" clip-path="url(#cp313)"/>
<rect x="310" y="239.1" width="13.4" height="3.4" fill="#fff"/>
<rect x="360.4" y="239.1" width="13" height="3.4" fill="#fff"/>
<path d="M 311 235 H 372.4 V 238.7 H 360.4 L 359.4 240.5 H 324.4 L 323.4 238.7 H 311 Z" fill="none" stroke="#6b6b6b" stroke-width="0.8"/>
<line x1="311" y1="218" x2="311" y2="235" stroke="#6b6b6b" stroke-width="0.8"/>
<line x1="372.4" y1="218" x2="372.4" y2="235" stroke="#6b6b6b" stroke-width="0.8"/>
<line x1="333.2" y1="218" x2="333.2" y2="235" stroke="#6b6b6b" stroke-width="1.2"/>
<line x1="349.3" y1="218" x2="349.3" y2="235" stroke="#6b6b6b" stroke-width="1.2"/>
<line x1="310" y1="226.6" x2="373.4" y2="226.6" stroke="#6b6b6b" stroke-width="0.8" stroke-dasharray="3 2.5"/>
<line x1="311" y1="203.6" x2="311" y2="257.2" stroke="#6b6b6b" stroke-width="0.8"/>
<line x1="372.4" y1="203.6" x2="372.4" y2="257.2" stroke="#6b6b6b" stroke-width="0.8"/>
<line x1="333.2" y1="203.6" x2="333.2" y2="214" stroke="#6b6b6b" stroke-width="0.8"/>
<line x1="349.3" y1="203.6" x2="349.3" y2="214" stroke="#6b6b6b" stroke-width="0.8"/>
<line x1="311" y1="206.6" x2="333.2" y2="206.6" stroke="#6b6b6b" stroke-width="0.8"/>
<polygon points="311,206.6 314.2,205.5 314.2,207.7" fill="#555"/>
<polygon points="333.2,206.6 330,207.7 330,205.5" fill="#555"/>
<line x1="349.3" y1="206.6" x2="372.4" y2="206.6" stroke="#6b6b6b" stroke-width="0.8"/>
<polygon points="349.3,206.6 352.5,205.5 352.5,207.7" fill="#555"/>
<polygon points="372.4,206.6 369.2,207.7 369.2,205.5" fill="#555"/>
<text x="322.1" y="204.4" font-size="10.5" text-anchor="middle" fill="#262626" stroke="#262626" stroke-width="0.19" font-family="Liberation Sans">g</text>
<text x="360.85" y="204.4" font-size="10.5" text-anchor="middle" fill="#262626" stroke="#262626" stroke-width="0.19" font-family="Liberation Sans">g</text>
<line x1="311" y1="254.7" x2="372.4" y2="254.7" stroke="#6b6b6b" stroke-width="0.8"/>
<polygon points="311,254.7 314.2,253.6 314.2,255.8" fill="#555"/>
<polygon points="372.4,254.7 369.2,255.8 369.2,253.6" fill="#555"/>
<text x="340.7" y="252.9" font-size="10" text-anchor="middle" fill="#262626" stroke="#262626" stroke-width="0.18" font-family="Liberation Sans">G<tspan font-size="5.5" dy="0">1</tspan></text>
<text x="345.6" y="190.5" font-size="13" text-anchor="middle" fill="#262626" stroke="#262626" stroke-width="0.22" font-family="Liberation Sans">A-A</text>
<circle cx="456.9" cy="226.4" r="11.6" fill="#fff" stroke="#6b6b6b" stroke-width="0.8"/>
<circle cx="456.9" cy="227.1" r="7.8" fill="none" stroke="#6b6b6b" stroke-width="0.8"/>
<rect x="454.7" y="218.8" width="4.4" height="2.5" fill="#fff"/>
<line x1="454.3" y1="204.9" x2="454.3" y2="220.3" stroke="#6b6b6b" stroke-width="0.8"/>
<line x1="459.5" y1="204.9" x2="459.5" y2="220.3" stroke="#6b6b6b" stroke-width="0.8"/>
<line x1="443.3" y1="226.4" x2="470.5" y2="226.4" stroke="#6b6b6b" stroke-width="0.8" stroke-dasharray="2 1.8"/>
<line x1="456.9" y1="216.8" x2="456.9" y2="242" stroke="#6b6b6b" stroke-width="0.8" stroke-dasharray="2 1.8"/>
<line x1="440.6" y1="206.3" x2="454.3" y2="206.3" stroke="#6b6b6b" stroke-width="0.8"/>
<polygon points="454.3,206.3 451.1,207.4 451.1,205.2" fill="#555"/>
<line x1="459.5" y1="206.3" x2="469.9" y2="206.3" stroke="#6b6b6b" stroke-width="0.8"/>
<polygon points="459.5,206.3 462.7,205.2 462.7,207.4" fill="#555"/>
<text x="447.1" y="205.7" font-size="10" text-anchor="middle" fill="#262626" stroke="#262626" stroke-width="0.18" font-family="Liberation Sans">b</text>
<line x1="439.9" y1="217.5" x2="453" y2="217.5" stroke="#6b6b6b" stroke-width="0.8"/>
<line x1="439.9" y1="234.3" x2="454.56" y2="234.3" stroke="#6b6b6b" stroke-width="0.8"/>
<line x1="441.9" y1="217.5" x2="441.9" y2="234.3" stroke="#6b6b6b" stroke-width="0.8"/>
<polygon points="441.9,217.5 443,220.7 440.8,220.7" fill="#555"/>
<polygon points="441.9,234.3 440.8,231.1 443,231.1" fill="#555"/>
<text x="439.9" y="225.9" font-size="10" text-anchor="middle" fill="#262626" stroke="#262626" stroke-width="0.18" font-family="Liberation Sans" transform="rotate(-90 439.9 225.9)">t</text>
<line x1="449.1" y1="227.1" x2="449.1" y2="256.5" stroke="#6b6b6b" stroke-width="0.8"/>
<line x1="464.7" y1="227.1" x2="464.7" y2="256.5" stroke="#6b6b6b" stroke-width="0.8"/>
<line x1="449.1" y1="254.7" x2="464.7" y2="254.7" stroke="#6b6b6b" stroke-width="0.8"/>
<polygon points="449.1,254.7 452.3,253.6 452.3,255.8" fill="#555"/>
<polygon points="464.7,254.7 461.5,255.8 461.5,253.6" fill="#555"/>
<text x="457.4" y="253.8" font-size="9.8" text-anchor="middle" fill="#262626" stroke="#262626" stroke-width="0.18" font-family="Liberation Sans">D</text>
<g transform="translate(601.8 121.6) scale(1)">
<path d="M -26.8 45 A 36.5 36.5 0 1 1 26.8 45" fill="#fff" stroke="#6b6b6b" stroke-width="0.95"/>
<path d="M -12 -3.5 A 26.9 26.9 0 0 1 12 -3.5" fill="none" stroke="#6b6b6b" stroke-width="0.95"/>
<path d="M -18.5 -11.2 L -12.2 0 M -15.8 -13.2 L -9.6 0" fill="none" stroke="#6b6b6b" stroke-width="0.95"/>
<path d="M 18.5 -11.2 L 12.2 0 M 15.8 -13.2 L 9.6 0" fill="none" stroke="#6b6b6b" stroke-width="0.95"/>
<path d="M -25.7 0 V -2 Q -23 -5 -20.5 -3 Q -18 -5 -15.2 -2 V 0" fill="none" stroke="#6b6b6b" stroke-width="0.95"/>
<path d="M 25.7 0 V -2 Q 23 -5 20.5 -3 Q 18 -5 15.2 -2 V 0" fill="none" stroke="#6b6b6b" stroke-width="0.95"/>
<rect x="-30.6" y="18.6" width="4" height="4.5" fill="none" stroke="#6b6b6b" stroke-width="0.95"/>
<rect x="26.6" y="18.6" width="4" height="4.5" fill="none" stroke="#6b6b6b" stroke-width="0.95"/>
<path d="M -15.5 -14.5 V -24.3 H 15.5 V -14.5" fill="none" stroke="#6b6b6b" stroke-width="0.95"/>
<path d="M -15.5 -22.6 H 15.5" fill="none" stroke="#6b6b6b" stroke-width="0.95"/>
<path d="M -11 -14.2 V -21 H 11 V -14.2" fill="none" stroke="#6b6b6b" stroke-width="0.95"/>
<path d="M -13.2 -22.6 V -16 M 13.2 -22.6 V -16" fill="none" stroke="#6b6b6b" stroke-width="0.95"/>
<rect x="-26.8" y="0" width="53.6" height="30.1" fill="#fff" stroke="#6b6b6b" stroke-width="0.95"/>
<line x1="-28.6" y1="30.1" x2="-28.6" y2="89.4" stroke="#6b6b6b" stroke-width="0.95"/>
<line x1="28.6" y1="30.1" x2="28.6" y2="89.4" stroke="#6b6b6b" stroke-width="0.95"/>
<line x1="-26.8" y1="30.1" x2="-26.8" y2="89.4" stroke="#6b6b6b" stroke-width="0.95"/>
<line x1="26.8" y1="30.1" x2="26.8" y2="89.4" stroke="#6b6b6b" stroke-width="0.95"/>
<rect x="-25.7" y="0" width="10.5" height="89.4" fill="none" stroke="#6b6b6b" stroke-width="0.95"/>
<rect x="-23.85" y="2.2" width="6.8" height="7.2" fill="none" stroke="#6b6b6b" stroke-width="0.95" rx="1.2"/>
<rect x="-23.85" y="20.4" width="6.8" height="7.2" fill="none" stroke="#6b6b6b" stroke-width="0.95" rx="1.2"/>
<circle cx="-20.45" cy="14.4" r="2.7" fill="none" stroke="#6b6b6b" stroke-width="0.95"/>
<line x1="-24.05" y1="14.4" x2="-16.85" y2="14.4" stroke="#6b6b6b" stroke-width="0.76"/>
<line x1="-20.45" y1="10.8" x2="-20.45" y2="18" stroke="#6b6b6b" stroke-width="0.76"/>
<rect x="-23.65" y="65.6" width="6.4" height="5.6" fill="none" stroke="#6b6b6b" stroke-width="0.95" rx="1"/>
<rect x="-23.65" y="81.6" width="6.4" height="5.6" fill="none" stroke="#6b6b6b" stroke-width="0.95" rx="1"/>
<circle cx="-20.45" cy="76.4" r="2.7" fill="none" stroke="#6b6b6b" stroke-width="0.95"/>
<line x1="-24.05" y1="76.4" x2="-16.85" y2="76.4" stroke="#6b6b6b" stroke-width="0.76"/>
<line x1="-20.45" y1="72.8" x2="-20.45" y2="80" stroke="#6b6b6b" stroke-width="0.76"/>
<rect x="15.2" y="0" width="10.5" height="89.4" fill="none" stroke="#6b6b6b" stroke-width="0.95"/>
<rect x="17.05" y="2.2" width="6.8" height="7.2" fill="none" stroke="#6b6b6b" stroke-width="0.95" rx="1.2"/>
<rect x="17.05" y="20.4" width="6.8" height="7.2" fill="none" stroke="#6b6b6b" stroke-width="0.95" rx="1.2"/>
<circle cx="20.45" cy="14.4" r="2.7" fill="none" stroke="#6b6b6b" stroke-width="0.95"/>
<line x1="16.85" y1="14.4" x2="24.05" y2="14.4" stroke="#6b6b6b" stroke-width="0.76"/>
<line x1="20.45" y1="10.8" x2="20.45" y2="18" stroke="#6b6b6b" stroke-width="0.76"/>
<rect x="17.25" y="65.6" width="6.4" height="5.6" fill="none" stroke="#6b6b6b" stroke-width="0.95" rx="1"/>
<rect x="17.25" y="81.6" width="6.4" height="5.6" fill="none" stroke="#6b6b6b" stroke-width="0.95" rx="1"/>
<circle cx="20.45" cy="76.4" r="2.7" fill="none" stroke="#6b6b6b" stroke-width="0.95"/>
<line x1="16.85" y1="76.4" x2="24.05" y2="76.4" stroke="#6b6b6b" stroke-width="0.76"/>
<line x1="20.45" y1="72.8" x2="20.45" y2="80" stroke="#6b6b6b" stroke-width="0.76"/>
<path d="M -16.5 30.1 A 16.5 16.5 0 0 1 -16.5 30.1" fill="none" stroke="#6b6b6b" stroke-width="0.95"/>
<circle cx="0" cy="20.6" r="17.2" fill="#fff" stroke="#6b6b6b" stroke-width="0.95"/>
<circle cx="0" cy="20.6" r="14.4" fill="none" stroke="#6b6b6b" stroke-width="0.95"/>
<line x1="-15.2" y1="42.7" x2="15.2" y2="42.7" stroke="#6b6b6b" stroke-width="0.95"/>
<line x1="-15.2" y1="52.3" x2="15.2" y2="52.3" stroke="#6b6b6b" stroke-width="0.95"/>
<rect x="-12.9" y="54.7" width="2.6" height="33.8" fill="none" stroke="#6b6b6b" stroke-width="0.95" rx="0.6"/>
<rect x="-7.1" y="54.7" width="2.6" height="33.8" fill="none" stroke="#6b6b6b" stroke-width="0.95" rx="0.6"/>
<rect x="-1.3" y="54.7" width="2.6" height="33.8" fill="none" stroke="#6b6b6b" stroke-width="0.95" rx="0.6"/>
<rect x="4.5" y="54.7" width="2.6" height="33.8" fill="none" stroke="#6b6b6b" stroke-width="0.95" rx="0.6"/>
<rect x="10.3" y="54.7" width="2.6" height="33.8" fill="none" stroke="#6b6b6b" stroke-width="0.95" rx="0.6"/>
<line x1="-26.8" y1="89.4" x2="26.8" y2="89.4" stroke="#6b6b6b" stroke-width="0.95"/>
</g>
<line x1="574.5" y1="85" x2="574.5" y2="121.6" stroke="#6b6b6b" stroke-width="0.8"/>
<line x1="628.8" y1="85" x2="628.8" y2="121.6" stroke="#6b6b6b" stroke-width="0.8"/>
<line x1="574.5" y1="88.4" x2="628.8" y2="88.4" stroke="#6b6b6b" stroke-width="0.8"/>
<polygon points="574.5,88.4 577.7,87.3 577.7,89.5" fill="#555"/>
<polygon points="628.8,88.4 625.6,89.5 625.6,87.3" fill="#555"/>
<polygon points="601.8,88.4 598.6,89.5 598.6,87.3" fill="#555"/>
<polygon points="601.8,88.4 605,87.3 605,89.5" fill="#555"/>
<text x="589.3" y="87.6" font-size="9.2" text-anchor="middle" fill="#262626" stroke="#262626" stroke-width="0.17" font-family="Liberation Sans">N<tspan font-size="4.5" dy="0">1</tspan></text>
<text x="615.6" y="87.6" font-size="9.2" text-anchor="middle" fill="#262626" stroke="#262626" stroke-width="0.17" font-family="Liberation Sans">N<tspan font-size="4.5" dy="0">1</tspan></text>
<line x1="601.8" y1="92" x2="601.8" y2="218" stroke="#6b6b6b" stroke-width="0.8" stroke-dasharray="3 2.5"/>
<line x1="540" y1="136.2" x2="584" y2="136.2" stroke="#6b6b6b" stroke-width="0.8"/>
<line x1="539" y1="173.8" x2="632" y2="173.8" stroke="#6b6b6b" stroke-width="0.8"/>
<line x1="539.8" y1="211.2" x2="575" y2="211.2" stroke="#6b6b6b" stroke-width="0.8"/>
<line x1="562" y1="142.2" x2="640" y2="142.2" stroke="#6b6b6b" stroke-width="0.8" stroke-dasharray="3 2.5"/>
<line x1="542.2" y1="136.2" x2="542.2" y2="211.2" stroke="#6b6b6b" stroke-width="0.8"/>
<polygon points="542.2,136.2 543.3,139.4 541.1,139.4" fill="#555"/>
<polygon points="542.2,173.8 541.1,170.6 543.3,170.6" fill="#555"/>
<polygon points="542.2,173.8 543.3,177 541.1,177" fill="#555"/>
<polygon points="542.2,211.2 541.1,208 543.3,208" fill="#555"/>
<text x="540.6" y="154.5" font-size="9.2" text-anchor="middle" fill="#262626" stroke="#262626" stroke-width="0.17" font-family="Liberation Sans" transform="rotate(-90 540.6 154.5)">Q</text>
<text x="540.6" y="192" font-size="9.2" text-anchor="middle" fill="#262626" stroke="#262626" stroke-width="0.17" font-family="Liberation Sans" transform="rotate(-90 540.6 192)">H</text>
<line x1="553.9" y1="173.8" x2="553.9" y2="198.9" stroke="#6b6b6b" stroke-width="0.8"/>
<polygon points="553.9,176.3 555,178.7 552.8,178.7" fill="#555"/>
<polygon points="553.9,196.8 552.8,194.4 555,194.4" fill="#555"/>
<line x1="551.3" y1="198.9" x2="582" y2="198.9" stroke="#6b6b6b" stroke-width="0.8"/>
<text x="552.2" y="185" font-size="9.2" text-anchor="middle" fill="#262626" stroke="#262626" stroke-width="0.17" font-family="Liberation Sans" transform="rotate(-90 552.2 185)">V</text>
<text x="563.8" y="186.8" font-size="9.2" text-anchor="middle" fill="#262626" stroke="#262626" stroke-width="0.17" font-family="Liberation Sans" transform="rotate(-90 563.8 186.8)">O</text>
<line x1="565.8" y1="186.2" x2="565.8" y2="208.8" stroke="#6b6b6b" stroke-width="0.8"/>
<line x1="563.6" y1="195.6" x2="582" y2="195.6" stroke="#6b6b6b" stroke-width="0.8"/>
<line x1="563.6" y1="201.4" x2="582" y2="201.4" stroke="#6b6b6b" stroke-width="0.8"/>
<polygon points="565.8,195.6 564.7,193.4 566.9,193.4" fill="#555"/>
<polygon points="565.8,201.4 566.9,203.6 564.7,203.6" fill="#555"/>
<text x="532.4" y="172.2" font-size="9" text-anchor="middle" fill="#262626" stroke="#262626" stroke-width="0.16" font-family="Liberation Sans">A</text>
<line x1="530.2" y1="173.8" x2="533.8" y2="173.8" stroke="#6b6b6b" stroke-width="0.8"/>
<line x1="530.2" y1="173.8" x2="530.2" y2="178.4" stroke="#6b6b6b" stroke-width="0.8"/>
<polygon points="530.2,179.2 529.3,177 531.1,177" fill="#555"/>
<text x="664.6" y="172.1" font-size="9" text-anchor="middle" fill="#262626" stroke="#262626" stroke-width="0.16" font-family="Liberation Sans">A</text>
<line x1="661.6" y1="173.7" x2="665.8" y2="173.7" stroke="#6b6b6b" stroke-width="0.8"/>
<line x1="665.8" y1="173.7" x2="665.8" y2="178.3" stroke="#6b6b6b" stroke-width="0.8"/>
<polygon points="665.8,179.1 664.9,176.9 666.7,176.9" fill="#555"/>
<line x1="628.7" y1="121.2" x2="660" y2="121.2" stroke="#6b6b6b" stroke-width="0.8"/>
<line x1="628.7" y1="211.1" x2="659" y2="211.1" stroke="#6b6b6b" stroke-width="0.8"/>
<line x1="656.9" y1="121.2" x2="656.9" y2="211.1" stroke="#6b6b6b" stroke-width="0.8"/>
<polygon points="656.9,121.2 658,124.4 655.8,124.4" fill="#555"/>
<polygon points="656.9,211.1 655.8,207.9 658,207.9" fill="#555"/>
<text x="654.3" y="173.2" font-size="9.2" text-anchor="middle" fill="#262626" stroke="#262626" stroke-width="0.17" font-family="Liberation Sans" transform="rotate(-90 654.3 173.2)">E</text>
<line x1="630" y1="152.5" x2="645.6" y2="152.5" stroke="#6b6b6b" stroke-width="0.8"/>
<line x1="630" y1="195.4" x2="645.6" y2="195.4" stroke="#6b6b6b" stroke-width="0.8"/>
<line x1="643.9" y1="152.5" x2="643.9" y2="195.4" stroke="#6b6b6b" stroke-width="0.8"/>
<polygon points="643.9,152.5 645,155.7 642.8,155.7" fill="#555"/>
<polygon points="643.9,195.4 642.8,192.2 645,192.2" fill="#555"/>
<text x="642.3" y="173.2" font-size="9.2" text-anchor="middle" fill="#262626" stroke="#262626" stroke-width="0.17" font-family="Liberation Sans" transform="rotate(-90 642.3 173.2)">N</text>
<line x1="586.9" y1="206" x2="586.9" y2="224.4" stroke="#6b6b6b" stroke-width="0.8"/>
<line x1="616.8" y1="206" x2="616.8" y2="224.4" stroke="#6b6b6b" stroke-width="0.8"/>
<line x1="586.9" y1="222.2" x2="616.8" y2="222.2" stroke="#6b6b6b" stroke-width="0.8"/>
<polygon points="586.9,222.2 590.1,221.1 590.1,223.3" fill="#555"/>
<polygon points="616.8,222.2 613.6,223.3 613.6,221.1" fill="#555"/>
<text x="602.6" y="221.3" font-size="9.2" text-anchor="middle" fill="#262626" stroke="#262626" stroke-width="0.17" font-family="Liberation Sans">F</text>
<line x1="580.4" y1="206" x2="580.4" y2="235.6" stroke="#6b6b6b" stroke-width="0.8"/>
<line x1="622.6" y1="206" x2="622.6" y2="235.6" stroke="#6b6b6b" stroke-width="0.8"/>
<line x1="580.4" y1="233.4" x2="622.6" y2="233.4" stroke="#6b6b6b" stroke-width="0.8"/>
<polygon points="580.4,233.4 583.6,232.3 583.6,234.5" fill="#555"/>
<polygon points="622.6,233.4 619.4,234.5 619.4,232.3" fill="#555"/>
<text x="602.6" y="232.5" font-size="9.2" text-anchor="middle" fill="#262626" stroke="#262626" stroke-width="0.17" font-family="Liberation Sans">K</text>
<line x1="576.6" y1="206" x2="576.6" y2="246.8" stroke="#6b6b6b" stroke-width="0.8"/>
<line x1="627" y1="206" x2="627" y2="246.8" stroke="#6b6b6b" stroke-width="0.8"/>
<line x1="576.6" y1="244.6" x2="627" y2="244.6" stroke="#6b6b6b" stroke-width="0.8"/>
<polygon points="576.6,244.6 579.8,243.5 579.8,245.7" fill="#555"/>
<polygon points="627,244.6 623.8,245.7 623.8,243.5" fill="#555"/>
<text x="602.6" y="243.7" font-size="9.2" text-anchor="middle" fill="#262626" stroke="#262626" stroke-width="0.17" font-family="Liberation Sans">L</text>
<line x1="573.6" y1="206" x2="573.6" y2="258" stroke="#6b6b6b" stroke-width="0.8"/>
<line x1="630.2" y1="206" x2="630.2" y2="258" stroke="#6b6b6b" stroke-width="0.8"/>
<line x1="573.6" y1="255.8" x2="630.2" y2="255.8" stroke="#6b6b6b" stroke-width="0.8"/>
<polygon points="573.6,255.8 576.8,254.7 576.8,256.9" fill="#555"/>
<polygon points="630.2,255.8 627,256.9 627,254.7" fill="#555"/>
<text x="602.6" y="254.9" font-size="9.2" text-anchor="middle" fill="#262626" stroke="#262626" stroke-width="0.17" font-family="Liberation Sans">G<tspan font-size="5" dy="0">1</tspan></text>
<g transform="translate(143.9 450) scale(1.11)">
<line x1="-36.4" y1="-52.7" x2="-36.4" y2="37.5" stroke="#6b6b6b" stroke-width="0.8574007220216605"/>
<line x1="36.4" y1="-52.7" x2="36.4" y2="37.5" stroke="#6b6b6b" stroke-width="0.8574007220216605"/>
<path d="M -36.4 -52.7 H 36.4" fill="none" stroke="#6b6b6b" stroke-width="0.8574007220216605"/>
<path d="M -27.3 -52.7 V -48.8 M 27.3 -52.7 V -48.8" fill="none" stroke="#6b6b6b" stroke-width="0.8574007220216605"/>
<rect x="-24.5" y="-52.7" width="4.5" height="3.9" fill="none" stroke="#6b6b6b" stroke-width="0.8574007220216605"/>
<rect x="20" y="-52.7" width="4.5" height="3.9" fill="none" stroke="#6b6b6b" stroke-width="0.8574007220216605"/>
<path d="M -14 -52.7 V -49.6 H 14 V -52.7" fill="none" stroke="#6b6b6b" stroke-width="0.8574007220216605"/>
<rect x="-32.5" y="-48.8" width="65" height="82.2" fill="none" stroke="#6b6b6b" stroke-width="0.8574007220216605" rx="2.5"/>
<rect x="-18.2" y="-46.05" width="37.1" height="2.3" fill="#f2f2f2" stroke="#6b6b6b" stroke-width="1.1146209386281587" rx="1.15"/>
<rect x="-18.2" y="-40.85" width="37.1" height="2.3" fill="#f2f2f2" stroke="#6b6b6b" stroke-width="1.1146209386281587" rx="1.15"/>
<rect x="-18.2" y="-36.35" width="37.1" height="2.3" fill="#f2f2f2" stroke="#6b6b6b" stroke-width="1.1146209386281587" rx="1.15"/>
<line x1="-36.4" y1="-31.8" x2="36.4" y2="-31.8" stroke="#6b6b6b" stroke-width="0.8574007220216605"/>
<line x1="-32.5" y1="-27.5" x2="-20" y2="-27.5" stroke="#6b6b6b" stroke-width="0.8574007220216605"/>
<line x1="20" y1="-27.5" x2="32.5" y2="-27.5" stroke="#6b6b6b" stroke-width="0.8574007220216605"/>
<line x1="-36.4" y1="-40.2" x2="-32.5" y2="-40.2" stroke="#6b6b6b" stroke-width="0.8574007220216605"/>
<line x1="-36.4" y1="-37.7" x2="-32.5" y2="-37.7" stroke="#6b6b6b" stroke-width="0.8574007220216605"/>
<line x1="-36.4" y1="-35.2" x2="-32.5" y2="-35.2" stroke="#6b6b6b" stroke-width="0.8574007220216605"/>
<line x1="-36.4" y1="11.2" x2="-32.5" y2="11.2" stroke="#6b6b6b" stroke-width="0.8574007220216605"/>
<line x1="-36.4" y1="23.8" x2="-32.5" y2="23.8" stroke="#6b6b6b" stroke-width="0.8574007220216605"/>
<line x1="-36.4" y1="26.3" x2="-32.5" y2="26.3" stroke="#6b6b6b" stroke-width="0.8574007220216605"/>
<line x1="36.4" y1="-40.2" x2="32.5" y2="-40.2" stroke="#6b6b6b" stroke-width="0.8574007220216605"/>
<line x1="36.4" y1="-37.7" x2="32.5" y2="-37.7" stroke="#6b6b6b" stroke-width="0.8574007220216605"/>
<line x1="36.4" y1="-35.2" x2="32.5" y2="-35.2" stroke="#6b6b6b" stroke-width="0.8574007220216605"/>
<line x1="36.4" y1="11.2" x2="32.5" y2="11.2" stroke="#6b6b6b" stroke-width="0.8574007220216605"/>
<line x1="36.4" y1="23.8" x2="32.5" y2="23.8" stroke="#6b6b6b" stroke-width="0.8574007220216605"/>
<line x1="36.4" y1="26.3" x2="32.5" y2="26.3" stroke="#6b6b6b" stroke-width="0.8574007220216605"/>
<line x1="-32.5" y1="-10" x2="-28.5" y2="-10" stroke="#6b6b6b" stroke-width="0.8574007220216605"/>
<line x1="-28.5" y1="-10" x2="-28.5" y2="33.4" stroke="#6b6b6b" stroke-width="0.8574007220216605"/>
<line x1="32.5" y1="-10" x2="28.5" y2="-10" stroke="#6b6b6b" stroke-width="0.8574007220216605"/>
<line x1="28.5" y1="-10" x2="28.5" y2="33.4" stroke="#6b6b6b" stroke-width="0.8574007220216605"/>
<line x1="-36.4" y1="33.4" x2="36.4" y2="33.4" stroke="#6b6b6b" stroke-width="0.8574007220216605"/>
<line x1="-36.4" y1="37.5" x2="36.4" y2="37.5" stroke="#6b6b6b" stroke-width="0.8574007220216605"/>
<rect x="-28" y="33.4" width="4" height="4.1" fill="none" stroke="#6b6b6b" stroke-width="0.8574007220216605"/>
<rect x="24" y="33.4" width="4" height="4.1" fill="none" stroke="#6b6b6b" stroke-width="0.8574007220216605"/>
<path d="M -16 33.4 V 37.5 M 16 33.4 V 37.5" fill="none" stroke="#6b6b6b" stroke-width="0.8574007220216605"/>
<circle cx="0" cy="0" r="30.5" fill="#fff" stroke="#6b6b6b" stroke-width="0.8574007220216605"/>
<path d="M 0 -26.5 L -18.74 -18.74" fill="none" stroke="#6b6b6b" stroke-width="0.8574007220216605"/>
<path d="M -4.54 -28.64 A 29.0 29.0 0 0 0 -17.05 -23.46 Q -8.82 -21.29 -4.54 -28.64 Z" fill="none" stroke="#6b6b6b" stroke-width="0.8574007220216605"/>
<path d="M -18.74 -18.74 L -26.5 -0" fill="none" stroke="#6b6b6b" stroke-width="0.8574007220216605"/>
<path d="M -23.46 -17.05 A 29.0 29.0 0 0 0 -28.64 -4.54 Q -21.29 -8.82 -23.46 -17.05 Z" fill="none" stroke="#6b6b6b" stroke-width="0.8574007220216605"/>
<path d="M -26.5 -0 L -18.74 18.74" fill="none" stroke="#6b6b6b" stroke-width="0.8574007220216605"/>
<path d="M -28.64 4.54 A 29.0 29.0 0 0 0 -23.46 17.05 Q -21.29 8.82 -28.64 4.54 Z" fill="none" stroke="#6b6b6b" stroke-width="0.8574007220216605"/>
<path d="M -18.74 18.74 L -0 26.5" fill="none" stroke="#6b6b6b" stroke-width="0.8574007220216605"/>
<path d="M -17.05 23.46 A 29.0 29.0 0 0 0 -4.54 28.64 Q -8.82 21.29 -17.05 23.46 Z" fill="none" stroke="#6b6b6b" stroke-width="0.8574007220216605"/>
<path d="M -0 26.5 L 18.74 18.74" fill="none" stroke="#6b6b6b" stroke-width="0.8574007220216605"/>
<path d="M 4.54 28.64 A 29.0 29.0 0 0 0 17.05 23.46 Q 8.82 21.29 4.54 28.64 Z" fill="none" stroke="#6b6b6b" stroke-width="0.8574007220216605"/>
<path d="M 18.74 18.74 L 26.5 0" fill="none" stroke="#6b6b6b" stroke-width="0.8574007220216605"/>
<path d="M 23.46 17.05 A 29.0 29.0 0 0 0 28.64 4.54 Q 21.29 8.82 23.46 17.05 Z" fill="none" stroke="#6b6b6b" stroke-width="0.8574007220216605"/>
<path d="M 26.5 0 L 18.74 -18.74" fill="none" stroke="#6b6b6b" stroke-width="0.8574007220216605"/>
<path d="M 28.64 -4.54 A 29.0 29.0 0 0 0 23.46 -17.05 Q 21.29 -8.82 28.64 -4.54 Z" fill="none" stroke="#6b6b6b" stroke-width="0.8574007220216605"/>
<path d="M 18.74 -18.74 L 0 -26.5" fill="none" stroke="#6b6b6b" stroke-width="0.8574007220216605"/>
<path d="M 17.05 -23.46 A 29.0 29.0 0 0 0 4.54 -28.64 Q 8.82 -21.29 17.05 -23.46 Z" fill="none" stroke="#6b6b6b" stroke-width="0.8574007220216605"/>
<circle cx="0" cy="0" r="22.5" fill="none" stroke="#6b6b6b" stroke-width="0.8574007220216605"/>
<circle cx="0" cy="0" r="20.2" fill="none" stroke="#6b6b6b" stroke-width="0.8574007220216605"/>
<path d="M 16.41 8.54 A 18.5 18.5 0 0 1 8.54 16.41 L 7.16 13.75 A 15.5 15.5 0 0 0 13.75 7.16 Z" fill="none" stroke="#6b6b6b" stroke-width="0.8574007220216605"/>
<path d="M 5.56 17.64 A 18.5 18.5 0 0 1 -5.56 17.64 L -4.66 14.78 A 15.5 15.5 0 0 0 4.66 14.78 Z" fill="none" stroke="#6b6b6b" stroke-width="0.8574007220216605"/>
<path d="M -8.54 16.41 A 18.5 18.5 0 0 1 -16.41 8.54 L -13.75 7.16 A 15.5 15.5 0 0 0 -7.16 13.75 Z" fill="none" stroke="#6b6b6b" stroke-width="0.8574007220216605"/>
<path d="M -17.64 5.56 A 18.5 18.5 0 0 1 -17.64 -5.56 L -14.78 -4.66 A 15.5 15.5 0 0 0 -14.78 4.66 Z" fill="none" stroke="#6b6b6b" stroke-width="0.8574007220216605"/>
<path d="M -16.41 -8.54 A 18.5 18.5 0 0 1 -8.54 -16.41 L -7.16 -13.75 A 15.5 15.5 0 0 0 -13.75 -7.16 Z" fill="none" stroke="#6b6b6b" stroke-width="0.8574007220216605"/>
<path d="M -5.56 -17.64 A 18.5 18.5 0 0 1 5.56 -17.64 L 4.66 -14.78 A 15.5 15.5 0 0 0 -4.66 -14.78 Z" fill="none" stroke="#6b6b6b" stroke-width="0.8574007220216605"/>
<path d="M 8.54 -16.41 A 18.5 18.5 0 0 1 16.41 -8.54 L 13.75 -7.16 A 15.5 15.5 0 0 0 7.16 -13.75 Z" fill="none" stroke="#6b6b6b" stroke-width="0.8574007220216605"/>
<path d="M 17.64 -5.56 A 18.5 18.5 0 0 1 17.64 5.56 L 14.78 4.66 A 15.5 15.5 0 0 0 14.78 -4.66 Z" fill="none" stroke="#6b6b6b" stroke-width="0.8574007220216605"/>
<circle cx="0" cy="0" r="13.3" fill="none" stroke="#6b6b6b" stroke-width="0.8574007220216605"/>
<circle cx="0" cy="0" r="11.6" fill="none" stroke="#6b6b6b" stroke-width="0.8574007220216605"/>
<path d="M -1.8 -7.6 V -9.3 H 1.8 V -7.6 A 7.8 7.8 0 1 1 -1.8 -7.6 Z" fill="#fff" stroke="#6b6b6b" stroke-width="0.8574007220216605"/>
<circle cx="0" cy="-26.5" r="2.3" fill="#fff" stroke="#6b6b6b" stroke-width="0.9431407942238267"/>
<circle cx="0" cy="-26.5" r="1" fill="#888" stroke="#6b6b6b" stroke-width="0.6859205776173285"/>
<circle cx="-18.74" cy="-18.74" r="2.3" fill="#fff" stroke="#6b6b6b" stroke-width="0.9431407942238267"/>
<circle cx="-18.74" cy="-18.74" r="1" fill="#888" stroke="#6b6b6b" stroke-width="0.6859205776173285"/>
<circle cx="-26.5" cy="-0" r="2.3" fill="#fff" stroke="#6b6b6b" stroke-width="0.9431407942238267"/>
<circle cx="-26.5" cy="-0" r="1" fill="#888" stroke="#6b6b6b" stroke-width="0.6859205776173285"/>
<circle cx="-18.74" cy="18.74" r="2.3" fill="#fff" stroke="#6b6b6b" stroke-width="0.9431407942238267"/>
<circle cx="-18.74" cy="18.74" r="1" fill="#888" stroke="#6b6b6b" stroke-width="0.6859205776173285"/>
<circle cx="-0" cy="26.5" r="2.3" fill="#fff" stroke="#6b6b6b" stroke-width="0.9431407942238267"/>
<circle cx="-0" cy="26.5" r="1" fill="#888" stroke="#6b6b6b" stroke-width="0.6859205776173285"/>
<circle cx="18.74" cy="18.74" r="2.3" fill="#fff" stroke="#6b6b6b" stroke-width="0.9431407942238267"/>
<circle cx="18.74" cy="18.74" r="1" fill="#888" stroke="#6b6b6b" stroke-width="0.6859205776173285"/>
<circle cx="26.5" cy="0" r="2.3" fill="#fff" stroke="#6b6b6b" stroke-width="0.9431407942238267"/>
<circle cx="26.5" cy="0" r="1" fill="#888" stroke="#6b6b6b" stroke-width="0.6859205776173285"/>
<circle cx="18.74" cy="-18.74" r="2.3" fill="#fff" stroke="#6b6b6b" stroke-width="0.9431407942238267"/>
<circle cx="18.74" cy="-18.74" r="1" fill="#888" stroke="#6b6b6b" stroke-width="0.6859205776173285"/>
<line x1="0" y1="-5" x2="0" y2="5" stroke="#6b6b6b" stroke-width="0.8574007220216605" stroke-dasharray="1.5 1.5"/>
<line x1="-5" y1="0" x2="5" y2="0" stroke="#6b6b6b" stroke-width="0.8574007220216605" stroke-dasharray="1.5 1.5"/>
</g>
<rect x="184.2" y="391.5" width="5.4" height="47.6" fill="#fff" stroke="#6b6b6b" stroke-width="0.8"/>
<rect x="189.6" y="404" width="2.9" height="22" fill="#fff" stroke="#6b6b6b" stroke-width="0.8"/>
<path d="M 192.5 407 H 219.6 L 221.2 408.6 V 421.4 L 219.6 423 H 192.5" fill="#fff" stroke="#6b6b6b" stroke-width="0.8"/>
<rect x="195" y="406.5" width="24.5" height="2.7" fill="#c4c4c4" stroke="#6b6b6b" stroke-width="0.8" rx="1.3"/>
<line x1="220.2" y1="409" x2="220.2" y2="421" stroke="#aaa" stroke-width="1.6"/>
<line x1="70" y1="414.7" x2="226" y2="414.7" stroke="#6b6b6b" stroke-width="0.8"/>
<line x1="70" y1="450" x2="185" y2="450" stroke="#6b6b6b" stroke-width="0.8"/>
<path d="M 221.2 415.2 L 225 411.5 M 221.2 415.2 L 227 420.1 V 437.2 H 236.6" fill="none" stroke="#6b6b6b" stroke-width="0.8"/>
<text x="232.3" y="436.4" font-size="9.2" text-anchor="middle" fill="#262626" stroke="#262626" stroke-width="0.17" font-family="Liberation Sans">f</text>
<line x1="103.3" y1="366.2" x2="221.2" y2="366.2" stroke="#6b6b6b" stroke-width="0.8"/>
<polygon points="103.3,366.2 106.5,365.1 106.5,367.3" fill="#555"/>
<polygon points="221.2,366.2 218,367.3 218,365.1" fill="#555"/>
<polygon points="144,366.2 140.8,367.3 140.8,365.1" fill="#555"/>
<polygon points="144,366.2 147.2,365.1 147.2,367.3" fill="#555"/>
<polygon points="190.7,366.2 187.5,367.3 187.5,365.1" fill="#555"/>
<polygon points="190.7,366.2 193.9,365.1 193.9,367.3" fill="#555"/>
<line x1="103.3" y1="362.5" x2="103.3" y2="391.5" stroke="#6b6b6b" stroke-width="0.8"/>
<line x1="190.7" y1="362.5" x2="190.7" y2="391.5" stroke="#6b6b6b" stroke-width="0.8"/>
<line x1="221.2" y1="362.5" x2="221.2" y2="407" stroke="#6b6b6b" stroke-width="0.8"/>
<line x1="144" y1="362.5" x2="144" y2="369.5" stroke="#6b6b6b" stroke-width="0.8"/>
<text x="125" y="364.8" font-size="9.2" text-anchor="middle" fill="#262626" stroke="#262626" stroke-width="0.17" font-family="Liberation Sans">H</text>
<text x="167.5" y="364.8" font-size="9.2" text-anchor="middle" fill="#262626" stroke="#262626" stroke-width="0.17" font-family="Liberation Sans">G<tspan font-size="5" dy="0">2</tspan></text>
<text x="208" y="364.8" font-size="9.2" text-anchor="middle" fill="#262626" stroke="#262626" stroke-width="0.17" font-family="Liberation Sans">T</text>
<line x1="116.9" y1="378.6" x2="171.1" y2="378.6" stroke="#6b6b6b" stroke-width="0.8"/>
<polygon points="116.9,378.6 120.1,377.5 120.1,379.7" fill="#555"/>
<polygon points="171.1,378.6 167.9,379.7 167.9,377.5" fill="#555"/>
<line x1="116.9" y1="375.5" x2="116.9" y2="393.5" stroke="#6b6b6b" stroke-width="0.8"/>
<line x1="171.1" y1="375.5" x2="171.1" y2="393.5" stroke="#6b6b6b" stroke-width="0.8"/>
<text x="144" y="378" font-size="9.2" text-anchor="middle" fill="#262626" stroke="#262626" stroke-width="0.17" font-family="Liberation Sans">A</text>
<line x1="144" y1="386" x2="144" y2="500" stroke="#6b6b6b" stroke-width="0.8" stroke-dasharray="3 2.5"/>
<line x1="72.5" y1="417.8" x2="72.5" y2="447" stroke="#6b6b6b" stroke-width="0.8"/>
<polygon points="72.5,417.8 73.6,421 71.4,421" fill="#555"/>
<polygon points="72.5,447 71.4,443.8 73.6,443.8" fill="#555"/>
<text x="69.6" y="432.5" font-size="9.2" text-anchor="middle" fill="#262626" stroke="#262626" stroke-width="0.17" font-family="Liberation Sans" transform="rotate(-90 69.6 432.5)">I</text>
<path d="M 108 423 Q 99 435 95 447" fill="none" stroke="#6b6b6b" stroke-width="0.8"/>
<text x="96.5" y="437" font-size="8.5" text-anchor="middle" fill="#262626" stroke="#262626" stroke-width="0.15" font-family="Liberation Sans" transform="rotate(-70 96.5 437)">α</text>
<line x1="103.5" y1="415.5" x2="122" y2="430" stroke="#6b6b6b" stroke-width="0.8"/>
<line x1="70" y1="487.2" x2="103.3" y2="487.2" stroke="#6b6b6b" stroke-width="0.8"/>
<line x1="70" y1="491.9" x2="103.3" y2="491.9" stroke="#6b6b6b" stroke-width="0.8"/>
<line x1="72.5" y1="470" x2="72.5" y2="501" stroke="#6b6b6b" stroke-width="0.8"/>
<polygon points="72.5,487.2 71.4,484.8 73.6,484.8" fill="#555"/>
<polygon points="72.5,491.9 73.6,494.3 71.4,494.3" fill="#555"/>
<text x="70" y="475.5" font-size="9.2" text-anchor="middle" fill="#262626" stroke="#262626" stroke-width="0.17" font-family="Liberation Sans" transform="rotate(-90 70 475.5)">S</text>
<line x1="141" y1="478" x2="141" y2="508" stroke="#6b6b6b" stroke-width="0.8"/>
<line x1="146.7" y1="478" x2="146.7" y2="508" stroke="#6b6b6b" stroke-width="0.8"/>
<line x1="134" y1="506.8" x2="165" y2="506.8" stroke="#6b6b6b" stroke-width="0.8"/>
<polygon points="141,506.8 137.8,507.9 137.8,505.7" fill="#555"/>
<polygon points="146.7,506.8 149.9,505.7 149.9,507.9" fill="#555"/>
<text x="155" y="506.4" font-size="9.2" text-anchor="start" fill="#262626" stroke="#262626" stroke-width="0.17" font-family="Liberation Sans">KE</text>
<line x1="115.3" y1="488" x2="115.3" y2="519.2" stroke="#6b6b6b" stroke-width="0.8"/>
<line x1="172.6" y1="488" x2="172.6" y2="519.2" stroke="#6b6b6b" stroke-width="0.8"/>
<line x1="115.3" y1="517" x2="172.6" y2="517" stroke="#6b6b6b" stroke-width="0.8"/>
<polygon points="115.3,517 118.5,515.9 118.5,518.1" fill="#555"/>
<polygon points="172.6,517 169.4,518.1 169.4,515.9" fill="#555"/>
<text x="144" y="516.5" font-size="9.2" text-anchor="middle" fill="#262626" stroke="#262626" stroke-width="0.17" font-family="Liberation Sans">M</text>
<line x1="110" y1="488" x2="110" y2="531.5" stroke="#6b6b6b" stroke-width="0.8"/>
<line x1="177.1" y1="488" x2="177.1" y2="531.5" stroke="#6b6b6b" stroke-width="0.8"/>
<line x1="110" y1="529.3" x2="177.1" y2="529.3" stroke="#6b6b6b" stroke-width="0.8"/>
<polygon points="110,529.3 113.2,528.2 113.2,530.4" fill="#555"/>
<polygon points="177.1,529.3 173.9,530.4 173.9,528.2" fill="#555"/>
<text x="144" y="527.5" font-size="9.2" text-anchor="middle" fill="#262626" stroke="#262626" stroke-width="0.17" font-family="Liberation Sans">P</text>
<line x1="103.3" y1="492" x2="103.3" y2="543.5" stroke="#6b6b6b" stroke-width="0.8"/>
<line x1="184.7" y1="492" x2="184.7" y2="543.5" stroke="#6b6b6b" stroke-width="0.8"/>
<line x1="103.3" y1="541.3" x2="184.7" y2="541.3" stroke="#6b6b6b" stroke-width="0.8"/>
<polygon points="103.3,541.3 106.5,540.2 106.5,542.4" fill="#555"/>
<polygon points="184.7,541.3 181.5,542.4 181.5,540.2" fill="#555"/>
<text x="144" y="539.5" font-size="9.2" text-anchor="middle" fill="#262626" stroke="#262626" stroke-width="0.17" font-family="Liberation Sans">C</text>
<text x="154.2" y="559.3" font-size="12.3" text-anchor="middle" fill="#262626" stroke="#262626" stroke-width="0.22" font-family="Liberation Sans">NRV···</text>
<circle cx="336.2" cy="415.2" r="11" fill="#fff" stroke="#6b6b6b" stroke-width="0.8"/>
<rect x="332.9" y="403.2" width="5.7" height="4" fill="#fff"/>
<path d="M 332.6 391.9 V 406.5 H 338.9 V 391.9" fill="none" stroke="#6b6b6b" stroke-width="0.8"/>
<line x1="323.2" y1="415.2" x2="349.2" y2="415.2" stroke="#6b6b6b" stroke-width="0.8" stroke-dasharray="2 1.8"/>
<line x1="336.2" y1="407.2" x2="336.2" y2="428.2" stroke="#6b6b6b" stroke-width="0.8" stroke-dasharray="2 1.8"/>
<line x1="318.4" y1="391.9" x2="332.6" y2="391.9" stroke="#6b6b6b" stroke-width="0.8"/>
<polygon points="332.6,391.9 329.4,393 329.4,390.8" fill="#555"/>
<line x1="338.9" y1="391.9" x2="349.9" y2="391.9" stroke="#6b6b6b" stroke-width="0.8"/>
<polygon points="338.9,391.9 342.1,390.8 342.1,393" fill="#555"/>
<text x="322.8" y="390.2" font-size="9.2" text-anchor="middle" fill="#262626" stroke="#262626" stroke-width="0.17" font-family="Liberation Sans">b<tspan font-size="5" dy="0">1</tspan></text>
<line x1="317" y1="403.4" x2="334" y2="403.4" stroke="#6b6b6b" stroke-width="0.8"/>
<line x1="317" y1="426.2" x2="336" y2="426.2" stroke="#6b6b6b" stroke-width="0.8"/>
<line x1="319.2" y1="403.4" x2="319.2" y2="426.2" stroke="#6b6b6b" stroke-width="0.8"/>
<polygon points="319.2,403.4 320.3,406.6 318.1,406.6" fill="#555"/>
<polygon points="319.2,426.2 318.1,423 320.3,423" fill="#555"/>
<text x="316.8" y="414.8" font-size="9.2" text-anchor="middle" fill="#262626" stroke="#262626" stroke-width="0.17" font-family="Liberation Sans" transform="rotate(-90 316.8 414.8)">t<tspan font-size="5" dy="0">1</tspan></text>
<line x1="325.2" y1="416" x2="325.2" y2="443.5" stroke="#6b6b6b" stroke-width="0.8"/>
<line x1="347.1" y1="416" x2="347.1" y2="443.5" stroke="#6b6b6b" stroke-width="0.8"/>
<line x1="325.2" y1="441.2" x2="347.1" y2="441.2" stroke="#6b6b6b" stroke-width="0.8"/>
<polygon points="325.2,441.2 328.4,440.1 328.4,442.3" fill="#555"/>
<polygon points="347.1,441.2 343.9,442.3 343.9,440.1" fill="#555"/>
<text x="336.5" y="439.4" font-size="9.2" text-anchor="middle" fill="#262626" stroke="#262626" stroke-width="0.17" font-family="Liberation Sans">D<tspan font-size="5" dy="0">1</tspan></text>
<path d="M 303.8 495.5 H 317 L 318 493.8 H 358.5 L 359.5 495.5 H 372.6 V 498.8 H 303.8 Z" fill="#fff" stroke="#6b6b6b" stroke-width="0.8"/>
<clipPath id="cp668"><rect x="303.8" y="493.8" width="68.8" height="5"/></clipPath>
<path d="M 298.8 498.8 L 307.8 493.8 M 304.6 498.8 L 313.6 493.8 M 310.4 498.8 L 319.4 493.8 M 316.2 498.8 L 325.2 493.8 M 322 498.8 L 331 493.8 M 327.8 498.8 L 336.8 493.8 M 333.6 498.8 L 342.6 493.8 M 339.4 498.8 L 348.4 493.8 M 345.2 498.8 L 354.2 493.8 M 351 498.8 L 360 493.8 M 356.8 498.8 L 365.8 493.8 M 362.6 498.8 L 371.6 493.8 M 368.4 498.8 L 377.4 493.8 M 374.2 498.8 L 383.2 493.8" stroke="#5e5e5e" stroke-width="1.25" clip-path="url(#cp668)"/>
<path d="M 303.8 495.5 H 317 L 318 493.8 H 358.5 L 359.5 495.5 H 372.6 V 498.8 H 303.8 Z" fill="none" stroke="#6b6b6b" stroke-width="0.8"/>
<rect x="302.8" y="491.8" width="14.2" height="3.3" fill="#fff"/>
<rect x="359.5" y="491.8" width="14.1" height="3.3" fill="#fff"/>
<path d="M 303.8 495.5 H 317 L 318 493.8 H 358.5 L 359.5 495.5 H 372.6" fill="none" stroke="#6b6b6b" stroke-width="0.8"/>
<clipPath id="cp674"><rect x="303.8" y="518" width="68.8" height="6"/></clipPath>
<path d="M 297.8 524 L 308.6 518 M 303.6 524 L 314.4 518 M 309.4 524 L 320.2 518 M 315.2 524 L 326 518 M 321 524 L 331.8 518 M 326.8 524 L 337.6 518 M 332.6 524 L 343.4 518 M 338.4 524 L 349.2 518 M 344.2 524 L 355 518 M 350 524 L 360.8 518 M 355.8 524 L 366.6 518 M 361.6 524 L 372.4 518 M 367.4 524 L 378.2 518 M 373.2 524 L 384 518" stroke="#5e5e5e" stroke-width="1.25" clip-path="url(#cp674)"/>
<rect x="302.8" y="522.4" width="14.2" height="3.6" fill="#fff"/>
<rect x="359.5" y="522.4" width="14.1" height="3.6" fill="#fff"/>
<path d="M 303.8 518 H 372.6 V 522 H 359.5 L 358.5 524 H 318 L 317 522 H 303.8 Z" fill="none" stroke="#6b6b6b" stroke-width="0.8"/>
<line x1="303.8" y1="498.8" x2="303.8" y2="518" stroke="#6b6b6b" stroke-width="0.8"/>
<line x1="372.6" y1="498.8" x2="372.6" y2="518" stroke="#6b6b6b" stroke-width="0.8"/>
<line x1="329.3" y1="498.8" x2="329.3" y2="518" stroke="#6b6b6b" stroke-width="1.2"/>
<line x1="347.1" y1="498.8" x2="347.1" y2="518" stroke="#6b6b6b" stroke-width="1.2"/>
<line x1="302.8" y1="509.2" x2="373.6" y2="509.2" stroke="#6b6b6b" stroke-width="0.8" stroke-dasharray="3 2.5"/>
<line x1="303.8" y1="483.4" x2="303.8" y2="543.7" stroke="#6b6b6b" stroke-width="0.8"/>
<line x1="372.6" y1="483.4" x2="372.6" y2="543.7" stroke="#6b6b6b" stroke-width="0.8"/>
<line x1="329.3" y1="483.4" x2="329.3" y2="495.5" stroke="#6b6b6b" stroke-width="0.8"/>
<line x1="347.1" y1="483.4" x2="347.1" y2="495.5" stroke="#6b6b6b" stroke-width="0.8"/>
<line x1="303.8" y1="486.4" x2="329.3" y2="486.4" stroke="#6b6b6b" stroke-width="0.8"/>
<polygon points="303.8,486.4 307,485.3 307,487.5" fill="#555"/>
<polygon points="329.3,486.4 326.1,487.5 326.1,485.3" fill="#555"/>
<line x1="347.1" y1="486.4" x2="372.6" y2="486.4" stroke="#6b6b6b" stroke-width="0.8"/>
<polygon points="347.1,486.4 350.3,485.3 350.3,487.5" fill="#555"/>
<polygon points="372.6,486.4 369.4,487.5 369.4,485.3" fill="#555"/>
<text x="316.55" y="484.2" font-size="10.5" text-anchor="middle" fill="#262626" stroke="#262626" stroke-width="0.19" font-family="Liberation Sans">g</text>
<text x="359.85" y="484.2" font-size="10.5" text-anchor="middle" fill="#262626" stroke="#262626" stroke-width="0.19" font-family="Liberation Sans">g</text>
<line x1="303.8" y1="541.2" x2="372.6" y2="541.2" stroke="#6b6b6b" stroke-width="0.8"/>
<polygon points="303.8,541.2 307,540.1 307,542.3" fill="#555"/>
<polygon points="372.6,541.2 369.4,542.3 369.4,540.1" fill="#555"/>
<text x="337.2" y="539.4" font-size="10" text-anchor="middle" fill="#262626" stroke="#262626" stroke-width="0.18" font-family="Liberation Sans">G<tspan font-size="5.5" dy="0">1</tspan></text>
<text x="340.3" y="471.6" font-size="11" text-anchor="middle" fill="#262626" stroke="#262626" stroke-width="0.2" font-family="Liberation Sans">A-A</text>
<circle cx="442.8" cy="509" r="13.2" fill="#fff" stroke="#6b6b6b" stroke-width="0.8"/>
<circle cx="442.8" cy="508.7" r="8.8" fill="none" stroke="#6b6b6b" stroke-width="0.8"/>
<rect x="440.45" y="499.4" width="4.7" height="2.5" fill="#fff"/>
<line x1="440.05" y1="484.4" x2="440.05" y2="500.9" stroke="#6b6b6b" stroke-width="0.8"/>
<line x1="445.55" y1="484.4" x2="445.55" y2="500.9" stroke="#6b6b6b" stroke-width="0.8"/>
<line x1="427.6" y1="509" x2="458" y2="509" stroke="#6b6b6b" stroke-width="0.8" stroke-dasharray="2 1.8"/>
<line x1="442.8" y1="497.8" x2="442.8" y2="526.2" stroke="#6b6b6b" stroke-width="0.8" stroke-dasharray="2 1.8"/>
<line x1="425.3" y1="486.5" x2="440.05" y2="486.5" stroke="#6b6b6b" stroke-width="0.8"/>
<polygon points="440.05,486.5 436.85,487.6 436.85,485.4" fill="#555"/>
<line x1="445.55" y1="486.5" x2="455.5" y2="486.5" stroke="#6b6b6b" stroke-width="0.8"/>
<polygon points="445.55,486.5 448.75,485.4 448.75,487.6" fill="#555"/>
<text x="431.8" y="485.9" font-size="10" text-anchor="middle" fill="#262626" stroke="#262626" stroke-width="0.18" font-family="Liberation Sans">b</text>
<line x1="424.1" y1="498.8" x2="438.4" y2="498.8" stroke="#6b6b6b" stroke-width="0.8"/>
<line x1="424.1" y1="517.7" x2="440.16" y2="517.7" stroke="#6b6b6b" stroke-width="0.8"/>
<line x1="426.1" y1="498.8" x2="426.1" y2="517.7" stroke="#6b6b6b" stroke-width="0.8"/>
<polygon points="426.1,498.8 427.2,502 425,502" fill="#555"/>
<polygon points="426.1,517.7 425,514.5 427.2,514.5" fill="#555"/>
<text x="424.1" y="508.25" font-size="10" text-anchor="middle" fill="#262626" stroke="#262626" stroke-width="0.18" font-family="Liberation Sans" transform="rotate(-90 424.1 508.25)">t</text>
<line x1="434" y1="508.7" x2="434" y2="542.3" stroke="#6b6b6b" stroke-width="0.8"/>
<line x1="451.6" y1="508.7" x2="451.6" y2="542.3" stroke="#6b6b6b" stroke-width="0.8"/>
<line x1="434" y1="540.5" x2="451.6" y2="540.5" stroke="#6b6b6b" stroke-width="0.8"/>
<polygon points="434,540.5 437.2,539.4 437.2,541.6" fill="#555"/>
<polygon points="451.6,540.5 448.4,541.6 448.4,539.4" fill="#555"/>
<text x="443.3" y="539.6" font-size="9.8" text-anchor="middle" fill="#262626" stroke="#262626" stroke-width="0.18" font-family="Liberation Sans">D</text>
<g transform="translate(611.5 391.6) scale(1.11)">
<rect x="-26.8" y="0" width="53.6" height="30.1" fill="#fff" stroke="#6b6b6b" stroke-width="0.852017937219731"/>
<line x1="-28.6" y1="30.1" x2="-28.6" y2="89.4" stroke="#6b6b6b" stroke-width="0.852017937219731"/>
<line x1="28.6" y1="30.1" x2="28.6" y2="89.4" stroke="#6b6b6b" stroke-width="0.852017937219731"/>
<line x1="-26.8" y1="30.1" x2="-26.8" y2="89.4" stroke="#6b6b6b" stroke-width="0.852017937219731"/>
<line x1="26.8" y1="30.1" x2="26.8" y2="89.4" stroke="#6b6b6b" stroke-width="0.852017937219731"/>
<rect x="-25.7" y="0" width="10.5" height="89.4" fill="none" stroke="#6b6b6b" stroke-width="0.852017937219731"/>
<rect x="-23.85" y="2.2" width="6.8" height="7.2" fill="none" stroke="#6b6b6b" stroke-width="0.852017937219731" rx="1.2"/>
<rect x="-23.85" y="20.4" width="6.8" height="7.2" fill="none" stroke="#6b6b6b" stroke-width="0.852017937219731" rx="1.2"/>
<circle cx="-20.45" cy="14.4" r="2.7" fill="none" stroke="#6b6b6b" stroke-width="0.852017937219731"/>
<line x1="-24.05" y1="14.4" x2="-16.85" y2="14.4" stroke="#6b6b6b" stroke-width="0.6816143497757848"/>
<line x1="-20.45" y1="10.8" x2="-20.45" y2="18" stroke="#6b6b6b" stroke-width="0.6816143497757848"/>
<rect x="-23.65" y="65.6" width="6.4" height="5.6" fill="none" stroke="#6b6b6b" stroke-width="0.852017937219731" rx="1"/>
<rect x="-23.65" y="81.6" width="6.4" height="5.6" fill="none" stroke="#6b6b6b" stroke-width="0.852017937219731" rx="1"/>
<circle cx="-20.45" cy="76.4" r="2.7" fill="none" stroke="#6b6b6b" stroke-width="0.852017937219731"/>
<line x1="-24.05" y1="76.4" x2="-16.85" y2="76.4" stroke="#6b6b6b" stroke-width="0.6816143497757848"/>
<line x1="-20.45" y1="72.8" x2="-20.45" y2="80" stroke="#6b6b6b" stroke-width="0.6816143497757848"/>
<rect x="15.2" y="0" width="10.5" height="89.4" fill="none" stroke="#6b6b6b" stroke-width="0.852017937219731"/>
<rect x="17.05" y="2.2" width="6.8" height="7.2" fill="none" stroke="#6b6b6b" stroke-width="0.852017937219731" rx="1.2"/>
<rect x="17.05" y="20.4" width="6.8" height="7.2" fill="none" stroke="#6b6b6b" stroke-width="0.852017937219731" rx="1.2"/>
<circle cx="20.45" cy="14.4" r="2.7" fill="none" stroke="#6b6b6b" stroke-width="0.852017937219731"/>
<line x1="16.85" y1="14.4" x2="24.05" y2="14.4" stroke="#6b6b6b" stroke-width="0.6816143497757848"/>
<line x1="20.45" y1="10.8" x2="20.45" y2="18" stroke="#6b6b6b" stroke-width="0.6816143497757848"/>
<rect x="17.25" y="65.6" width="6.4" height="5.6" fill="none" stroke="#6b6b6b" stroke-width="0.852017937219731" rx="1"/>
<rect x="17.25" y="81.6" width="6.4" height="5.6" fill="none" stroke="#6b6b6b" stroke-width="0.852017937219731" rx="1"/>
<circle cx="20.45" cy="76.4" r="2.7" fill="none" stroke="#6b6b6b" stroke-width="0.852017937219731"/>
<line x1="16.85" y1="76.4" x2="24.05" y2="76.4" stroke="#6b6b6b" stroke-width="0.6816143497757848"/>
<line x1="20.45" y1="72.8" x2="20.45" y2="80" stroke="#6b6b6b" stroke-width="0.6816143497757848"/>
<path d="M -16.5 30.1 A 16.5 16.5 0 0 1 -16.5 30.1" fill="none" stroke="#6b6b6b" stroke-width="0.852017937219731"/>
<circle cx="0" cy="20.6" r="17.2" fill="#fff" stroke="#6b6b6b" stroke-width="0.852017937219731"/>
<circle cx="0" cy="20.6" r="14.4" fill="none" stroke="#6b6b6b" stroke-width="0.852017937219731"/>
<line x1="-15.2" y1="42.7" x2="15.2" y2="42.7" stroke="#6b6b6b" stroke-width="0.852017937219731"/>
<line x1="-15.2" y1="52.3" x2="15.2" y2="52.3" stroke="#6b6b6b" stroke-width="0.852017937219731"/>
<rect x="-12.9" y="54.7" width="2.6" height="33.8" fill="none" stroke="#6b6b6b" stroke-width="0.852017937219731" rx="0.6"/>
<rect x="-7.1" y="54.7" width="2.6" height="33.8" fill="none" stroke="#6b6b6b" stroke-width="0.852017937219731" rx="0.6"/>
<rect x="-1.3" y="54.7" width="2.6" height="33.8" fill="none" stroke="#6b6b6b" stroke-width="0.852017937219731" rx="0.6"/>
<rect x="4.5" y="54.7" width="2.6" height="33.8" fill="none" stroke="#6b6b6b" stroke-width="0.852017937219731" rx="0.6"/>
<rect x="10.3" y="54.7" width="2.6" height="33.8" fill="none" stroke="#6b6b6b" stroke-width="0.852017937219731" rx="0.6"/>
<line x1="-26.8" y1="89.4" x2="26.8" y2="89.4" stroke="#6b6b6b" stroke-width="0.852017937219731"/>
</g>
<line x1="580.9" y1="375" x2="580.9" y2="391.6" stroke="#6b6b6b" stroke-width="0.8"/>
<line x1="641.5" y1="375" x2="641.5" y2="391.6" stroke="#6b6b6b" stroke-width="0.8"/>
<line x1="580.9" y1="378.4" x2="641.5" y2="378.4" stroke="#6b6b6b" stroke-width="0.8"/>
<polygon points="580.9,378.4 584.1,377.3 584.1,379.5" fill="#555"/>
<polygon points="641.5,378.4 638.3,379.5 638.3,377.3" fill="#555"/>
<polygon points="611.5,378.4 608.3,379.5 608.3,377.3" fill="#555"/>
<polygon points="611.5,378.4 614.7,377.3 614.7,379.5" fill="#555"/>
<text x="595.2" y="377.4" font-size="9.2" text-anchor="middle" fill="#262626" stroke="#262626" stroke-width="0.17" font-family="Liberation Sans">N<tspan font-size="4.5" dy="0">1</tspan></text>
<text x="625.2" y="377.4" font-size="9.2" text-anchor="middle" fill="#262626" stroke="#262626" stroke-width="0.17" font-family="Liberation Sans">N<tspan font-size="4.5" dy="0">1</tspan></text>
<line x1="611.5" y1="375.4" x2="611.5" y2="495" stroke="#6b6b6b" stroke-width="0.8"/>
<line x1="542.4" y1="408.5" x2="592" y2="408.5" stroke="#6b6b6b" stroke-width="0.8"/>
<line x1="539.2" y1="450.2" x2="648" y2="450.2" stroke="#6b6b6b" stroke-width="0.8"/>
<line x1="541.8" y1="491.8" x2="582" y2="491.8" stroke="#6b6b6b" stroke-width="0.8"/>
<line x1="590" y1="414.7" x2="648" y2="414.7" stroke="#6b6b6b" stroke-width="0.8"/>
<line x1="544.6" y1="408.5" x2="544.6" y2="491.8" stroke="#6b6b6b" stroke-width="0.8"/>
<polygon points="544.6,408.5 545.7,411.7 543.5,411.7" fill="#555"/>
<polygon points="544.6,450.2 543.5,447 545.7,447" fill="#555"/>
<polygon points="544.6,450.2 545.7,453.4 543.5,453.4" fill="#555"/>
<polygon points="544.6,491.8 543.5,488.6 545.7,488.6" fill="#555"/>
<text x="543" y="428.9" font-size="9.2" text-anchor="middle" fill="#262626" stroke="#262626" stroke-width="0.17" font-family="Liberation Sans" transform="rotate(-90 543 428.9)">Q</text>
<text x="543" y="470.8" font-size="9.2" text-anchor="middle" fill="#262626" stroke="#262626" stroke-width="0.17" font-family="Liberation Sans" transform="rotate(-90 543 470.8)">H</text>
<line x1="558.3" y1="450.2" x2="558.3" y2="477.6" stroke="#6b6b6b" stroke-width="0.8"/>
<polygon points="558.3,451.8 559.4,454.2 557.2,454.2" fill="#555"/>
<polygon points="558.3,477.3 557.2,474.9 559.4,474.9" fill="#555"/>
<line x1="555.3" y1="477.6" x2="590" y2="477.6" stroke="#6b6b6b" stroke-width="0.8"/>
<text x="556.6" y="463" font-size="9.2" text-anchor="middle" fill="#262626" stroke="#262626" stroke-width="0.17" font-family="Liberation Sans" transform="rotate(-90 556.6 463)">V</text>
<text x="569" y="465" font-size="9.2" text-anchor="middle" fill="#262626" stroke="#262626" stroke-width="0.17" font-family="Liberation Sans" transform="rotate(-90 569 465)">O</text>
<line x1="570.8" y1="462.4" x2="570.8" y2="486.3" stroke="#6b6b6b" stroke-width="0.8"/>
<line x1="569.5" y1="474" x2="590" y2="474" stroke="#6b6b6b" stroke-width="0.8"/>
<line x1="569.5" y1="481.1" x2="590" y2="481.1" stroke="#6b6b6b" stroke-width="0.8"/>
<polygon points="570.8,474 569.7,471.8 571.9,471.8" fill="#555"/>
<polygon points="570.8,481.1 571.9,483.3 569.7,483.3" fill="#555"/>
<text x="533.2" y="448.6" font-size="9" text-anchor="middle" fill="#262626" stroke="#262626" stroke-width="0.16" font-family="Liberation Sans">A</text>
<line x1="531" y1="450.2" x2="534.6" y2="450.2" stroke="#6b6b6b" stroke-width="0.8"/>
<line x1="531" y1="450.2" x2="531" y2="454.8" stroke="#6b6b6b" stroke-width="0.8"/>
<polygon points="531,455.6 530.1,453.4 531.9,453.4" fill="#555"/>
<text x="680.3" y="448.6" font-size="9" text-anchor="middle" fill="#262626" stroke="#262626" stroke-width="0.16" font-family="Liberation Sans">A</text>
<line x1="677.3" y1="450.2" x2="681.5" y2="450.2" stroke="#6b6b6b" stroke-width="0.8"/>
<line x1="681.5" y1="450.2" x2="681.5" y2="454.8" stroke="#6b6b6b" stroke-width="0.8"/>
<polygon points="681.5,455.6 680.6,453.4 682.4,453.4" fill="#555"/>
<line x1="641" y1="391.6" x2="676" y2="391.6" stroke="#6b6b6b" stroke-width="0.8"/>
<line x1="641" y1="491.2" x2="676" y2="491.2" stroke="#6b6b6b" stroke-width="0.8"/>
<line x1="672.9" y1="391.6" x2="672.9" y2="491.2" stroke="#6b6b6b" stroke-width="0.8"/>
<polygon points="672.9,391.6 674,394.8 671.8,394.8" fill="#555"/>
<polygon points="672.9,491.2 671.8,488 674,488" fill="#555"/>
<text x="670.3" y="450.5" font-size="9.2" text-anchor="middle" fill="#262626" stroke="#262626" stroke-width="0.17" font-family="Liberation Sans" transform="rotate(-90 670.3 450.5)">E</text>
<line x1="641" y1="425.3" x2="662" y2="425.3" stroke="#6b6b6b" stroke-width="0.8"/>
<line x1="641" y1="474.2" x2="662" y2="474.2" stroke="#6b6b6b" stroke-width="0.8"/>
<line x1="658.8" y1="425.3" x2="658.8" y2="474.2" stroke="#6b6b6b" stroke-width="0.8"/>
<polygon points="658.8,425.3 659.9,428.5 657.7,428.5" fill="#555"/>
<polygon points="658.8,474.2 657.7,471 659.9,471" fill="#555"/>
<text x="657.2" y="450.5" font-size="9.2" text-anchor="middle" fill="#262626" stroke="#262626" stroke-width="0.17" font-family="Liberation Sans" transform="rotate(-90 657.2 450.5)">N</text>
<line x1="594" y1="486" x2="594" y2="505.7" stroke="#6b6b6b" stroke-width="0.8"/>
<line x1="627.7" y1="486" x2="627.7" y2="505.7" stroke="#6b6b6b" stroke-width="0.8"/>
<line x1="594" y1="503.5" x2="627.7" y2="503.5" stroke="#6b6b6b" stroke-width="0.8"/>
<polygon points="594,503.5 597.2,502.4 597.2,504.6" fill="#555"/>
<polygon points="627.7,503.5 624.5,504.6 624.5,502.4" fill="#555"/>
<text x="611.5" y="502.7" font-size="9.2" text-anchor="middle" fill="#262626" stroke="#262626" stroke-width="0.17" font-family="Liberation Sans">F</text>
<line x1="587" y1="486" x2="587" y2="519.2" stroke="#6b6b6b" stroke-width="0.8"/>
<line x1="634.6" y1="486" x2="634.6" y2="519.2" stroke="#6b6b6b" stroke-width="0.8"/>
<line x1="587" y1="517" x2="634.6" y2="517" stroke="#6b6b6b" stroke-width="0.8"/>
<polygon points="587,517 590.2,515.9 590.2,518.1" fill="#555"/>
<polygon points="634.6,517 631.4,518.1 631.4,515.9" fill="#555"/>
<text x="611.5" y="516.2" font-size="9.2" text-anchor="middle" fill="#262626" stroke="#262626" stroke-width="0.17" font-family="Liberation Sans">K</text>
<line x1="582.9" y1="486" x2="582.9" y2="531.6" stroke="#6b6b6b" stroke-width="0.8"/>
<line x1="639.6" y1="486" x2="639.6" y2="531.6" stroke="#6b6b6b" stroke-width="0.8"/>
<line x1="582.9" y1="529.4" x2="639.6" y2="529.4" stroke="#6b6b6b" stroke-width="0.8"/>
<polygon points="582.9,529.4 586.1,528.3 586.1,530.5" fill="#555"/>
<polygon points="639.6,529.4 636.4,530.5 636.4,528.3" fill="#555"/>
<text x="611.5" y="528.6" font-size="9.2" text-anchor="middle" fill="#262626" stroke="#262626" stroke-width="0.17" font-family="Liberation Sans">L</text>
<line x1="579.9" y1="486" x2="579.9" y2="543.9" stroke="#6b6b6b" stroke-width="0.8"/>
<line x1="642.5" y1="486" x2="642.5" y2="543.9" stroke="#6b6b6b" stroke-width="0.8"/>
<line x1="579.9" y1="541.7" x2="642.5" y2="541.7" stroke="#6b6b6b" stroke-width="0.8"/>
<polygon points="579.9,541.7 583.1,540.6 583.1,542.8" fill="#555"/>
<polygon points="642.5,541.7 639.3,542.8 639.3,540.6" fill="#555"/>
<text x="611.5" y="540.9" font-size="9.2" text-anchor="middle" fill="#262626" stroke="#262626" stroke-width="0.17" font-family="Liberation Sans">G<tspan font-size="5" dy="0">1</tspan></text>
<g transform="translate(89.9 699.5) scale(1.2)">
<path d="M -26.8 45 A 36.5 36.5 0 1 1 26.8 45" fill="#fff" stroke="#6b6b6b" stroke-width="0.7916666666666666"/>
<path d="M -12 -3.5 A 26.9 26.9 0 0 1 12 -3.5" fill="none" stroke="#6b6b6b" stroke-width="0.7916666666666666"/>
<path d="M -18.5 -11.2 L -12.2 0 M -15.8 -13.2 L -9.6 0" fill="none" stroke="#6b6b6b" stroke-width="0.7916666666666666"/>
<path d="M 18.5 -11.2 L 12.2 0 M 15.8 -13.2 L 9.6 0" fill="none" stroke="#6b6b6b" stroke-width="0.7916666666666666"/>
<path d="M -25.7 0 V -2 Q -23 -5 -20.5 -3 Q -18 -5 -15.2 -2 V 0" fill="none" stroke="#6b6b6b" stroke-width="0.7916666666666666"/>
<path d="M 25.7 0 V -2 Q 23 -5 20.5 -3 Q 18 -5 15.2 -2 V 0" fill="none" stroke="#6b6b6b" stroke-width="0.7916666666666666"/>
<rect x="-30.6" y="18.6" width="4" height="4.5" fill="none" stroke="#6b6b6b" stroke-width="0.7916666666666666"/>
<rect x="26.6" y="18.6" width="4" height="4.5" fill="none" stroke="#6b6b6b" stroke-width="0.7916666666666666"/>
<path d="M -15.5 -14.5 V -24.3 H 15.5 V -14.5" fill="none" stroke="#6b6b6b" stroke-width="0.7916666666666666"/>
<path d="M -15.5 -22.6 H 15.5" fill="none" stroke="#6b6b6b" stroke-width="0.7916666666666666"/>
<path d="M -11 -14.2 V -21 H 11 V -14.2" fill="none" stroke="#6b6b6b" stroke-width="0.7916666666666666"/>
<path d="M -13.2 -22.6 V -16 M 13.2 -22.6 V -16" fill="none" stroke="#6b6b6b" stroke-width="0.7916666666666666"/>
<rect x="-26.8" y="0" width="53.6" height="30.1" fill="#fff" stroke="#6b6b6b" stroke-width="0.7916666666666666"/>
<line x1="-28.6" y1="30.1" x2="-28.6" y2="89.4" stroke="#6b6b6b" stroke-width="0.7916666666666666"/>
<line x1="28.6" y1="30.1" x2="28.6" y2="89.4" stroke="#6b6b6b" stroke-width="0.7916666666666666"/>
<line x1="-26.8" y1="30.1" x2="-26.8" y2="89.4" stroke="#6b6b6b" stroke-width="0.7916666666666666"/>
<line x1="26.8" y1="30.1" x2="26.8" y2="89.4" stroke="#6b6b6b" stroke-width="0.7916666666666666"/>
<rect x="-25.7" y="0" width="10.5" height="89.4" fill="none" stroke="#6b6b6b" stroke-width="0.7916666666666666"/>
<rect x="-23.85" y="2.2" width="6.8" height="7.2" fill="none" stroke="#6b6b6b" stroke-width="0.7916666666666666" rx="1.2"/>
<rect x="-23.85" y="20.4" width="6.8" height="7.2" fill="none" stroke="#6b6b6b" stroke-width="0.7916666666666666" rx="1.2"/>
<circle cx="-20.45" cy="14.4" r="2.7" fill="none" stroke="#6b6b6b" stroke-width="0.7916666666666666"/>
<line x1="-24.05" y1="14.4" x2="-16.85" y2="14.4" stroke="#6b6b6b" stroke-width="0.6333333333333333"/>
<line x1="-20.45" y1="10.8" x2="-20.45" y2="18" stroke="#6b6b6b" stroke-width="0.6333333333333333"/>
<rect x="-23.65" y="65.6" width="6.4" height="5.6" fill="none" stroke="#6b6b6b" stroke-width="0.7916666666666666" rx="1"/>
<rect x="-23.65" y="81.6" width="6.4" height="5.6" fill="none" stroke="#6b6b6b" stroke-width="0.7916666666666666" rx="1"/>
<circle cx="-20.45" cy="76.4" r="2.7" fill="none" stroke="#6b6b6b" stroke-width="0.7916666666666666"/>
<line x1="-24.05" y1="76.4" x2="-16.85" y2="76.4" stroke="#6b6b6b" stroke-width="0.6333333333333333"/>
<line x1="-20.45" y1="72.8" x2="-20.45" y2="80" stroke="#6b6b6b" stroke-width="0.6333333333333333"/>
<rect x="15.2" y="0" width="10.5" height="89.4" fill="none" stroke="#6b6b6b" stroke-width="0.7916666666666666"/>
<rect x="17.05" y="2.2" width="6.8" height="7.2" fill="none" stroke="#6b6b6b" stroke-width="0.7916666666666666" rx="1.2"/>
<rect x="17.05" y="20.4" width="6.8" height="7.2" fill="none" stroke="#6b6b6b" stroke-width="0.7916666666666666" rx="1.2"/>
<circle cx="20.45" cy="14.4" r="2.7" fill="none" stroke="#6b6b6b" stroke-width="0.7916666666666666"/>
<line x1="16.85" y1="14.4" x2="24.05" y2="14.4" stroke="#6b6b6b" stroke-width="0.6333333333333333"/>
<line x1="20.45" y1="10.8" x2="20.45" y2="18" stroke="#6b6b6b" stroke-width="0.6333333333333333"/>
<rect x="17.25" y="65.6" width="6.4" height="5.6" fill="none" stroke="#6b6b6b" stroke-width="0.7916666666666666" rx="1"/>
<rect x="17.25" y="81.6" width="6.4" height="5.6" fill="none" stroke="#6b6b6b" stroke-width="0.7916666666666666" rx="1"/>
<circle cx="20.45" cy="76.4" r="2.7" fill="none" stroke="#6b6b6b" stroke-width="0.7916666666666666"/>
<line x1="16.85" y1="76.4" x2="24.05" y2="76.4" stroke="#6b6b6b" stroke-width="0.6333333333333333"/>
<line x1="20.45" y1="72.8" x2="20.45" y2="80" stroke="#6b6b6b" stroke-width="0.6333333333333333"/>
<path d="M -16.5 30.1 A 16.5 16.5 0 0 1 -16.5 30.1" fill="none" stroke="#6b6b6b" stroke-width="0.7916666666666666"/>
<circle cx="0" cy="20.6" r="17.2" fill="#fff" stroke="#6b6b6b" stroke-width="0.7916666666666666"/>
<circle cx="0" cy="20.6" r="14.4" fill="none" stroke="#6b6b6b" stroke-width="0.7916666666666666"/>
<line x1="-15.2" y1="42.7" x2="15.2" y2="42.7" stroke="#6b6b6b" stroke-width="0.7916666666666666"/>
<line x1="-15.2" y1="52.3" x2="15.2" y2="52.3" stroke="#6b6b6b" stroke-width="0.7916666666666666"/>
<rect x="-12.9" y="54.7" width="2.6" height="33.8" fill="none" stroke="#6b6b6b" stroke-width="0.7916666666666666" rx="0.6"/>
<rect x="-7.1" y="54.7" width="2.6" height="33.8" fill="none" stroke="#6b6b6b" stroke-width="0.7916666666666666" rx="0.6"/>
<rect x="-1.3" y="54.7" width="2.6" height="33.8" fill="none" stroke="#6b6b6b" stroke-width="0.7916666666666666" rx="0.6"/>
<rect x="4.5" y="54.7" width="2.6" height="33.8" fill="none" stroke="#6b6b6b" stroke-width="0.7916666666666666" rx="0.6"/>
<rect x="10.3" y="54.7" width="2.6" height="33.8" fill="none" stroke="#6b6b6b" stroke-width="0.7916666666666666" rx="0.6"/>
<line x1="-26.8" y1="89.4" x2="26.8" y2="89.4" stroke="#6b6b6b" stroke-width="0.7916666666666666"/>
</g>
<rect x="121.8" y="725.3" width="28.2" height="74.6" fill="#fff" stroke="#6b6b6b" stroke-width="0.8"/>
<line x1="121.8" y1="738.7" x2="150" y2="738.7" stroke="#6b6b6b" stroke-width="0.8"/>
<line x1="121.8" y1="750.4" x2="150" y2="750.4" stroke="#6b6b6b" stroke-width="0.8"/>
<line x1="121.8" y1="763" x2="150" y2="763" stroke="#6b6b6b" stroke-width="0.8"/>
<line x1="121.8" y1="774.8" x2="150" y2="774.8" stroke="#6b6b6b" stroke-width="0.8"/>
<line x1="121.8" y1="787.3" x2="150" y2="787.3" stroke="#6b6b6b" stroke-width="0.8"/>
<line x1="126.5" y1="725.3" x2="126.5" y2="738.7" stroke="#6b6b6b" stroke-width="0.8"/>
<line x1="126.5" y1="750.4" x2="126.5" y2="763" stroke="#6b6b6b" stroke-width="0.8"/>
<line x1="126.5" y1="774.8" x2="126.5" y2="787.3" stroke="#6b6b6b" stroke-width="0.8"/>
<rect x="150" y="719.8" width="6.8" height="85.6" fill="#fff" stroke="#6b6b6b" stroke-width="0.8"/>
<line x1="153.2" y1="732.4" x2="153.2" y2="795" stroke="#6b6b6b" stroke-width="0.8"/>
<line x1="44.5" y1="725.5" x2="136" y2="725.5" stroke="#6b6b6b" stroke-width="0.8"/>
<line x1="54.4" y1="763" x2="150" y2="763" stroke="#6b6b6b" stroke-width="0.8"/>
<line x1="90.3" y1="647" x2="90.3" y2="818" stroke="#6b6b6b" stroke-width="0.8"/>
<line x1="156.8" y1="646" x2="156.8" y2="818" stroke="#6b6b6b" stroke-width="0.8"/>
<line x1="90.3" y1="650.4" x2="156.8" y2="650.4" stroke="#6b6b6b" stroke-width="0.8"/>
<polygon points="90.3,650.4 93.5,649.3 93.5,651.5" fill="#555"/>
<polygon points="156.8,650.4 153.6,651.5 153.6,649.3" fill="#555"/>
<text x="122.2" y="647.6" font-size="9.2" text-anchor="middle" fill="#262626" stroke="#262626" stroke-width="0.17" font-family="Liberation Sans">KA</text>
<line x1="150" y1="708" x2="150" y2="719.8" stroke="#6b6b6b" stroke-width="0.8"/>
<line x1="138.3" y1="711.2" x2="150" y2="711.2" stroke="#6b6b6b" stroke-width="0.8"/>
<polygon points="150,711.2 147.4,712.3 147.4,710.1" fill="#555"/>
<line x1="156.8" y1="711.2" x2="174.4" y2="711.2" stroke="#6b6b6b" stroke-width="0.8"/>
<polygon points="156.8,711.2 159.4,710.1 159.4,712.3" fill="#555"/>
<text x="164.2" y="709.2" font-size="9.2" text-anchor="start" fill="#262626" stroke="#262626" stroke-width="0.17" font-family="Liberation Sans">KB</text>
<line x1="162.6" y1="763" x2="179.5" y2="763" stroke="#6b6b6b" stroke-width="0.8"/>
<polygon points="160.5,763 163.1,761.9 163.1,764.1" fill="#555"/>
<text x="165.6" y="760.8" font-size="9.2" text-anchor="start" fill="#262626" stroke="#262626" stroke-width="0.17" font-family="Liberation Sans">B</text>
<polyline points="175.5,753.8 174.77,755.28" fill="none" stroke="#262626" stroke-width="0.8" stroke-linecap="square" stroke-linejoin="miter"/>
<polyline points="172.84,755.28 172.84,761.2" fill="none" stroke="#262626" stroke-width="0.8" stroke-linecap="square" stroke-linejoin="miter"/>
<polyline points="172.84,755.28 178.76,755.28 178.76,760.9 177.72,760.6" fill="none" stroke="#262626" stroke-width="0.8" stroke-linecap="square" stroke-linejoin="miter"/>
<polyline points="174.77,757.2 176.98,757.2 176.98,759.42 174.77,759.42 174.77,757.2" fill="none" stroke="#262626" stroke-width="0.8" stroke-linecap="square" stroke-linejoin="miter"/>
<line x1="153.2" y1="805" x2="153.2" y2="818" stroke="#6b6b6b" stroke-width="0.8"/>
<line x1="142.2" y1="815.6" x2="153.2" y2="815.6" stroke="#6b6b6b" stroke-width="0.8"/>
<polygon points="153.2,815.6 150.6,816.7 150.6,814.5" fill="#555"/>
<line x1="156.8" y1="815.6" x2="174.4" y2="815.6" stroke="#6b6b6b" stroke-width="0.8"/>
<polygon points="156.8,815.6 159.4,814.5 159.4,816.7" fill="#555"/>
<text x="164.2" y="813.8" font-size="9.2" text-anchor="start" fill="#262626" stroke="#262626" stroke-width="0.17" font-family="Liberation Sans">KC</text>
<text x="87" y="834.3" font-size="12.8" text-anchor="start" fill="#262626" stroke="#262626" stroke-width="0.22" font-family="Liberation Sans" textLength="61.5" lengthAdjust="spacing">NMRV...-F<tspan font-size="7" dy="1.5">1</tspan></text>
<polygon points="295.5,701.4 352.4,701.4 365.4,714.4 365.4,773.6 352.4,786.6 295.5,786.6 282.5,773.6 282.5,714.4" fill="#fff" stroke="#6b6b6b" stroke-width="0.8"/>
<path d="M 319.53 705.36 Q 318.91 704.58 319.91 704.58 L 327.29 704.58 Q 328.29 704.58 327.67 705.36 L 324.22 709.72 Q 323.6 710.5 322.98 709.72 Z" fill="#fff" stroke="#5e5e5e" stroke-width="0.85"/>
<path d="M 333.17 704.81 Q 334.04 703.84 334.96 704.75 L 346.49 716.25 Q 347.42 717.17 347.09 718.09 L 347.02 718.3 Q 346.69 719.22 345.7 718.38 L 345.04 717.82 Q 344.04 716.98 342.97 716.25 L 342.25 715.76 Q 341.18 715.03 340.03 714.41 L 339.27 714 Q 338.12 713.38 336.92 712.88 L 336.12 712.55 Q 334.92 712.05 333.67 711.68 L 332.84 711.43 Q 331.6 711.06 330.32 710.82 L 329.46 710.66 Q 328.19 710.41 329.05 709.44 Z" fill="#fff" stroke="#5e5e5e" stroke-width="0.85"/>
<path d="M 347.62 710.37 Q 348.75 709.24 347.62 708.1 L 343.66 704.14 Q 342.53 703.01 341.4 704.14 L 340.97 704.57 Q 339.84 705.7 340.97 706.83 L 344.93 710.79 Q 346.06 711.92 347.2 710.79 Z" fill="#fff" stroke="#5e5e5e" stroke-width="0.85"/>
<path d="M 362.69 734.33 Q 363.66 733.46 362.75 732.54 L 351.25 721.01 Q 350.33 720.08 349.41 720.41 L 349.2 720.48 Q 348.28 720.81 349.12 721.8 L 349.68 722.46 Q 350.52 723.46 351.25 724.53 L 351.74 725.25 Q 352.47 726.32 353.09 727.47 L 353.5 728.23 Q 354.12 729.38 354.62 730.58 L 354.95 731.38 Q 355.45 732.58 355.82 733.83 L 356.07 734.66 Q 356.44 735.9 356.68 737.18 L 356.84 738.04 Q 357.09 739.31 358.06 738.45 Z" fill="#fff" stroke="#5e5e5e" stroke-width="0.85"/>
<path d="M 363.36 726.1 Q 364.49 724.97 363.36 723.84 L 359.4 719.88 Q 358.26 718.75 357.13 719.88 L 356.71 720.3 Q 355.58 721.44 356.71 722.57 L 360.67 726.53 Q 361.8 727.66 362.93 726.53 Z" fill="#fff" stroke="#5e5e5e" stroke-width="0.85"/>
<path d="M 362.14 739.83 Q 362.92 739.21 362.92 740.21 L 362.92 747.59 Q 362.92 748.59 362.14 747.97 L 357.78 744.52 Q 357 743.9 357.78 743.28 Z" fill="#fff" stroke="#5e5e5e" stroke-width="0.85"/>
<path d="M 362.69 753.47 Q 363.66 754.34 362.75 755.26 L 351.25 766.79 Q 350.33 767.72 349.41 767.39 L 349.2 767.32 Q 348.28 766.99 349.12 766 L 349.68 765.34 Q 350.52 764.34 351.25 763.27 L 351.74 762.55 Q 352.47 761.48 353.09 760.33 L 353.5 759.57 Q 354.12 758.42 354.62 757.22 L 354.95 756.42 Q 355.45 755.22 355.82 753.97 L 356.07 753.14 Q 356.44 751.9 356.68 750.62 L 356.84 749.76 Q 357.09 748.49 358.06 749.35 Z" fill="#fff" stroke="#5e5e5e" stroke-width="0.85"/>
<path d="M 357.13 767.92 Q 358.26 769.05 359.4 767.92 L 363.36 763.96 Q 364.49 762.83 363.36 761.7 L 362.93 761.27 Q 361.8 760.14 360.67 761.27 L 356.71 765.23 Q 355.58 766.36 356.71 767.5 Z" fill="#fff" stroke="#5e5e5e" stroke-width="0.85"/>
<path d="M 333.17 782.99 Q 334.04 783.96 334.96 783.05 L 346.49 771.55 Q 347.42 770.63 347.09 769.71 L 347.02 769.5 Q 346.69 768.58 345.7 769.42 L 345.04 769.98 Q 344.04 770.82 342.97 771.55 L 342.25 772.04 Q 341.18 772.77 340.03 773.39 L 339.27 773.8 Q 338.12 774.42 336.92 774.92 L 336.12 775.25 Q 334.92 775.75 333.67 776.12 L 332.84 776.37 Q 331.6 776.74 330.32 776.98 L 329.46 777.14 Q 328.19 777.39 329.05 778.36 Z" fill="#fff" stroke="#5e5e5e" stroke-width="0.85"/>
<path d="M 341.4 783.66 Q 342.53 784.79 343.66 783.66 L 347.62 779.7 Q 348.75 778.56 347.62 777.43 L 347.2 777.01 Q 346.06 775.88 344.93 777.01 L 340.97 780.97 Q 339.84 782.1 340.97 783.23 Z" fill="#fff" stroke="#5e5e5e" stroke-width="0.85"/>
<path d="M 327.67 782.44 Q 328.29 783.22 327.29 783.22 L 319.91 783.22 Q 318.91 783.22 319.53 782.44 L 322.98 778.08 Q 323.6 777.3 324.22 778.08 Z" fill="#fff" stroke="#5e5e5e" stroke-width="0.85"/>
<path d="M 314.03 782.99 Q 313.16 783.96 312.24 783.05 L 300.71 771.55 Q 299.78 770.63 300.11 769.71 L 300.18 769.5 Q 300.51 768.58 301.5 769.42 L 302.16 769.98 Q 303.16 770.82 304.23 771.55 L 304.95 772.04 Q 306.02 772.77 307.17 773.39 L 307.93 773.8 Q 309.08 774.42 310.28 774.92 L 311.08 775.25 Q 312.28 775.75 313.53 776.12 L 314.36 776.37 Q 315.6 776.74 316.88 776.98 L 317.74 777.14 Q 319.01 777.39 318.15 778.36 Z" fill="#fff" stroke="#5e5e5e" stroke-width="0.85"/>
<path d="M 299.58 777.43 Q 298.45 778.56 299.58 779.7 L 303.54 783.66 Q 304.67 784.79 305.8 783.66 L 306.23 783.23 Q 307.36 782.1 306.23 780.97 L 302.27 777.01 Q 301.14 775.88 300 777.01 Z" fill="#fff" stroke="#5e5e5e" stroke-width="0.85"/>
<path d="M 284.51 753.47 Q 283.54 754.34 284.45 755.26 L 295.95 766.79 Q 296.87 767.72 297.79 767.39 L 298 767.32 Q 298.92 766.99 298.08 766 L 297.52 765.34 Q 296.68 764.34 295.95 763.27 L 295.46 762.55 Q 294.73 761.48 294.11 760.33 L 293.7 759.57 Q 293.08 758.42 292.58 757.22 L 292.25 756.42 Q 291.75 755.22 291.38 753.97 L 291.13 753.14 Q 290.76 751.9 290.52 750.62 L 290.36 749.76 Q 290.11 748.49 289.14 749.35 Z" fill="#fff" stroke="#5e5e5e" stroke-width="0.85"/>
<path d="M 283.84 761.7 Q 282.71 762.83 283.84 763.96 L 287.8 767.92 Q 288.94 769.05 290.07 767.92 L 290.49 767.5 Q 291.62 766.36 290.49 765.23 L 286.53 761.27 Q 285.4 760.14 284.27 761.27 Z" fill="#fff" stroke="#5e5e5e" stroke-width="0.85"/>
<path d="M 285.06 747.97 Q 284.28 748.59 284.28 747.59 L 284.28 740.21 Q 284.28 739.21 285.06 739.83 L 289.42 743.28 Q 290.2 743.9 289.42 744.52 Z" fill="#fff" stroke="#5e5e5e" stroke-width="0.85"/>
<path d="M 284.51 734.33 Q 283.54 733.46 284.45 732.54 L 295.95 721.01 Q 296.87 720.08 297.79 720.41 L 298 720.48 Q 298.92 720.81 298.08 721.8 L 297.52 722.46 Q 296.68 723.46 295.95 724.53 L 295.46 725.25 Q 294.73 726.32 294.11 727.47 L 293.7 728.23 Q 293.08 729.38 292.58 730.58 L 292.25 731.38 Q 291.75 732.58 291.38 733.83 L 291.13 734.66 Q 290.76 735.9 290.52 737.18 L 290.36 738.04 Q 290.11 739.31 289.14 738.45 Z" fill="#fff" stroke="#5e5e5e" stroke-width="0.85"/>
<path d="M 290.07 719.88 Q 288.94 718.75 287.8 719.88 L 283.84 723.84 Q 282.71 724.97 283.84 726.1 L 284.27 726.53 Q 285.4 727.66 286.53 726.53 L 290.49 722.57 Q 291.62 721.44 290.49 720.3 Z" fill="#fff" stroke="#5e5e5e" stroke-width="0.85"/>
<path d="M 314.03 704.81 Q 313.16 703.84 312.24 704.75 L 300.71 716.25 Q 299.78 717.17 300.11 718.09 L 300.18 718.3 Q 300.51 719.22 301.5 718.38 L 302.16 717.82 Q 303.16 716.98 304.23 716.25 L 304.95 715.76 Q 306.02 715.03 307.17 714.41 L 307.93 714 Q 309.08 713.38 310.28 712.88 L 311.08 712.55 Q 312.28 712.05 313.53 711.68 L 314.36 711.43 Q 315.6 711.06 316.88 710.82 L 317.74 710.66 Q 319.01 710.41 318.15 709.44 Z" fill="#fff" stroke="#5e5e5e" stroke-width="0.85"/>
<path d="M 305.8 704.14 Q 304.67 703.01 303.54 704.14 L 299.58 708.1 Q 298.45 709.24 299.58 710.37 L 300 710.79 Q 301.14 711.92 302.27 710.79 L 306.23 706.83 Q 307.36 705.7 306.23 704.57 Z" fill="#fff" stroke="#5e5e5e" stroke-width="0.85"/>
<circle cx="323.6" cy="743.9" r="31.1" fill="#fff" stroke="#6b6b6b" stroke-width="0.8"/>
<circle cx="323.6" cy="743.9" r="29.5" fill="none" stroke="#6b6b6b" stroke-width="0.8"/>
<line x1="275" y1="743.9" x2="367" y2="743.9" stroke="#6b6b6b" stroke-width="0.8"/>
<line x1="323.6" y1="697.5" x2="323.6" y2="797" stroke="#6b6b6b" stroke-width="0.8"/>
<circle cx="293.5" cy="713.6" r="2.9" fill="#fff" stroke="#6b6b6b" stroke-width="0.8"/>
<line x1="291.4" y1="711.5" x2="295.6" y2="715.7" stroke="#6b6b6b" stroke-width="0.7"/>
<line x1="291.4" y1="715.7" x2="295.6" y2="711.5" stroke="#6b6b6b" stroke-width="0.7"/>
<circle cx="353.4" cy="713.6" r="2.9" fill="#fff" stroke="#6b6b6b" stroke-width="0.8"/>
<line x1="351.3" y1="711.5" x2="355.5" y2="715.7" stroke="#6b6b6b" stroke-width="0.7"/>
<line x1="351.3" y1="715.7" x2="355.5" y2="711.5" stroke="#6b6b6b" stroke-width="0.7"/>
<circle cx="293.5" cy="774.7" r="2.9" fill="#fff" stroke="#6b6b6b" stroke-width="0.8"/>
<line x1="291.4" y1="772.6" x2="295.6" y2="776.8" stroke="#6b6b6b" stroke-width="0.7"/>
<line x1="291.4" y1="776.8" x2="295.6" y2="772.6" stroke="#6b6b6b" stroke-width="0.7"/>
<circle cx="353.4" cy="774.7" r="2.9" fill="#fff" stroke="#6b6b6b" stroke-width="0.8"/>
<line x1="351.3" y1="772.6" x2="355.5" y2="776.8" stroke="#6b6b6b" stroke-width="0.7"/>
<line x1="351.3" y1="776.8" x2="355.5" y2="772.6" stroke="#6b6b6b" stroke-width="0.7"/>
<line x1="226.7" y1="719.8" x2="300.9" y2="650.3" stroke="#6b6b6b" stroke-width="0.8"/>
<polygon points="226.7,719.8 228.28,716.81 229.79,718.41" fill="#555"/>
<polygon points="300.9,650.3 299.32,653.29 297.81,651.69" fill="#555"/>
<line x1="224.5" y1="717.5" x2="296.5" y2="776.5" stroke="#6b6b6b" stroke-width="0.8"/>
<line x1="299" y1="648" x2="357" y2="706" stroke="#6b6b6b" stroke-width="0.8"/>
<line x1="244.9" y1="725" x2="307.4" y2="666.4" stroke="#6b6b6b" stroke-width="0.8"/>
<polygon points="244.9,725 246.48,722.01 247.99,723.61" fill="#555"/>
<polygon points="307.4,666.4 305.82,669.39 304.31,667.79" fill="#555"/>
<line x1="242.8" y1="722.8" x2="297" y2="777" stroke="#6b6b6b" stroke-width="0.8"/>
<line x1="305.3" y1="664.3" x2="360" y2="719" stroke="#6b6b6b" stroke-width="0.8"/>
<text x="261.5" y="682.5" font-size="9.2" text-anchor="middle" fill="#262626" stroke="#262626" stroke-width="0.17" font-family="Liberation Sans" transform="rotate(-43 261.5 682.5)">KP</text>
<text x="274" y="693.6" font-size="9.2" text-anchor="middle" fill="#262626" stroke="#262626" stroke-width="0.17" font-family="Liberation Sans" transform="rotate(-43 274 693.6)">KM</text>
<line x1="294.1" y1="745" x2="294.1" y2="801.5" stroke="#6b6b6b" stroke-width="0.8"/>
<line x1="353.1" y1="745" x2="353.1" y2="801.5" stroke="#6b6b6b" stroke-width="0.8"/>
<line x1="294.1" y1="799.2" x2="353.1" y2="799.2" stroke="#6b6b6b" stroke-width="0.8"/>
<polygon points="294.1,799.2 297.3,798.1 297.3,800.3" fill="#555"/>
<polygon points="353.1,799.2 349.9,800.3 349.9,798.1" fill="#555"/>
<text x="323.6" y="797.3" font-size="9.2" text-anchor="middle" fill="#262626" stroke="#262626" stroke-width="0.17" font-family="Liberation Sans">KN</text>
<line x1="282.5" y1="773" x2="282.5" y2="816" stroke="#6b6b6b" stroke-width="0.8"/>
<line x1="365.4" y1="773" x2="365.4" y2="816" stroke="#6b6b6b" stroke-width="0.8"/>
<line x1="282.5" y1="813.5" x2="365.4" y2="813.5" stroke="#6b6b6b" stroke-width="0.8"/>
<polygon points="282.5,813.5 285.7,812.4 285.7,814.6" fill="#555"/>
<polygon points="365.4,813.5 362.2,814.6 362.2,812.4" fill="#555"/>
<text x="323.6" y="811.6" font-size="9.2" text-anchor="middle" fill="#262626" stroke="#262626" stroke-width="0.17" font-family="Liberation Sans">KQ</text>
<line x1="353.4" y1="771.5" x2="383" y2="771.5" stroke="#6b6b6b" stroke-width="0.8"/>
<line x1="353.4" y1="777.8" x2="383" y2="777.8" stroke="#6b6b6b" stroke-width="0.8"/>
<line x1="380.3" y1="755" x2="380.3" y2="786" stroke="#6b6b6b" stroke-width="0.8"/>
<polygon points="380.3,771.5 379.2,769.1 381.4,769.1" fill="#555"/>
<polygon points="380.3,777.8 381.4,780.2 379.2,780.2" fill="#555"/>
<text x="378" y="758.5" font-size="9.2" text-anchor="middle" fill="#262626" stroke="#262626" stroke-width="0.17" font-family="Liberation Sans" transform="rotate(-90 378 758.5)">KO</text>
<text x="293.7" y="834.3" font-size="12.8" text-anchor="middle" fill="#262626" stroke="#262626" stroke-width="0.22" font-family="Liberation Sans">NMRV030-090</text>
<polygon points="511.2,725.8 511.2,726.56 511.2,727.33 511.2,728.1 511.2,728.86 511.2,729.63 511.2,730.4 511.2,731.18 511.2,731.96 511.2,732.74 511.2,733.52 511.2,734.31 511.2,735.11 511.2,735.91 511.2,736.72 511.2,737.54 511.2,738.36 511.2,739.19 511.2,740.03 511.2,740.88 511.2,741.74 511.2,742.61 511.2,743.5 511.2,744.39 511.07,745.24 510.72,746 510.36,746.75 509.99,747.5 509.6,748.24 509.21,748.97 508.8,749.7 508.37,750.42 507.94,751.13 507.49,751.83 507.03,752.53 506.56,753.22 506.07,753.9 505.57,754.57 505.07,755.23 504.55,755.88 504.02,756.53 503.48,757.16 502.92,757.78 502.36,758.4 501.78,759 501.2,759.6 500.6,760.18 500,760.76 499.38,761.32 498.76,761.88 498.13,762.42 497.48,762.95 496.83,763.47 496.17,763.97 495.5,764.47 494.82,764.96 494.13,765.43 493.43,765.89 492.73,766.34 492.02,766.77 491.3,767.2 490.57,767.61 489.84,768 489.1,768.39 488.35,768.76 487.6,769.12 486.84,769.47 486.08,769.8 485.31,770.12 484.53,770.43 483.71,770.6 482.83,770.6 481.96,770.6 481.1,770.6 480.25,770.6 479.4,770.6 478.57,770.6 477.74,770.6 476.92,770.6 476.11,770.6 475.3,770.6 474.5,770.6 473.7,770.6 472.9,770.6 472.11,770.6 471.32,770.6 470.53,770.6 469.75,770.6 468.96,770.6 468.18,770.6 467.4,770.6 466.62,770.6 465.84,770.6 465.05,770.6 464.27,770.6 463.48,770.6 462.69,770.6 461.9,770.6 461.1,770.6 460.3,770.6 459.5,770.6 458.69,770.6 457.88,770.6 457.06,770.6 456.23,770.6 455.4,770.6 454.55,770.6 453.7,770.6 452.84,770.6 451.97,770.6 451.09,770.6 450.27,770.43 449.49,770.12 448.72,769.8 447.96,769.47 447.2,769.12 446.45,768.76 445.7,768.39 444.96,768 444.23,767.61 443.5,767.2 442.78,766.77 442.07,766.34 441.37,765.89 440.67,765.43 439.98,764.96 439.3,764.47 438.63,763.97 437.97,763.47 437.32,762.95 436.67,762.42 436.04,761.88 435.42,761.32 434.8,760.76 434.2,760.18 433.6,759.6 433.02,759 432.44,758.4 431.88,757.78 431.32,757.16 430.78,756.53 430.25,755.88 429.73,755.23 429.23,754.57 428.73,753.9 428.24,753.22 427.77,752.53 427.31,751.83 426.86,751.13 426.43,750.42 426,749.7 425.59,748.97 425.2,748.24 424.81,747.5 424.44,746.75 424.08,746 423.8,745.21 423.8,744.31 423.8,743.42 423.8,742.54 423.8,741.67 423.8,740.81 423.8,739.97 423.8,739.13 423.8,738.3 423.8,737.48 423.8,736.67 423.8,735.87 423.8,735.07 423.8,734.27 423.8,733.49 423.8,732.71 423.8,731.93 423.8,731.15 423.8,730.38 423.8,729.61 423.8,728.85 423.8,728.08 423.8,727.32 423.8,726.56 423.8,725.8 423.8,725.04 423.8,724.28 423.8,723.52 423.8,722.75 423.8,721.99 423.8,721.22 423.8,720.45 423.8,719.67 423.8,718.89 423.8,718.11 423.8,717.33 423.8,716.53 423.8,715.73 423.8,714.93 423.8,714.12 423.8,713.3 423.8,712.47 423.8,711.63 423.8,710.79 423.8,709.93 423.8,709.06 423.8,708.18 423.8,707.29 423.8,706.39 424.08,705.6 424.44,704.85 424.81,704.1 425.2,703.36 425.59,702.63 426,701.9 426.43,701.18 426.86,700.47 427.31,699.77 427.77,699.07 428.24,698.38 428.73,697.7 429.23,697.03 429.73,696.37 430.25,695.72 430.78,695.07 431.32,694.44 431.88,693.82 432.44,693.2 433.02,692.6 433.6,692 434.2,691.42 434.8,690.84 435.42,690.28 436.04,689.72 436.67,689.18 437.32,688.65 437.97,688.13 438.63,687.63 439.3,687.13 439.98,686.64 440.67,686.17 441.37,685.71 442.07,685.26 442.78,684.83 443.5,684.4 444.23,683.99 444.96,683.6 445.7,683.21 446.45,682.84 447.2,682.48 447.96,682.13 448.72,681.8 449.49,681.48 450.27,681.17 451.13,681.1 452.01,681.1 452.88,681.1 453.73,681.1 454.58,681.1 455.42,681.1 456.26,681.1 457.08,681.1 457.9,681.1 458.71,681.1 459.52,681.1 460.32,681.1 461.12,681.1 461.91,681.1 462.7,681.1 463.49,681.1 464.27,681.1 465.06,681.1 465.84,681.1 466.62,681.1 467.4,681.1 468.18,681.1 468.96,681.1 469.74,681.1 470.53,681.1 471.31,681.1 472.1,681.1 472.89,681.1 473.68,681.1 474.48,681.1 475.28,681.1 476.09,681.1 476.9,681.1 477.72,681.1 478.54,681.1 479.38,681.1 480.22,681.1 481.07,681.1 481.92,681.1 482.79,681.1 483.67,681.1 484.53,681.17 485.31,681.48 486.08,681.8 486.84,682.13 487.6,682.48 488.35,682.84 489.1,683.21 489.84,683.6 490.57,683.99 491.3,684.4 492.02,684.83 492.73,685.26 493.43,685.71 494.13,686.17 494.82,686.64 495.5,687.13 496.17,687.63 496.83,688.13 497.48,688.65 498.13,689.18 498.76,689.72 499.38,690.28 500,690.84 500.6,691.42 501.2,692 501.78,692.6 502.36,693.2 502.92,693.82 503.48,694.44 504.02,695.07 504.55,695.72 505.07,696.37 505.57,697.03 506.07,697.7 506.56,698.38 507.03,699.07 507.49,699.77 507.94,700.47 508.37,701.18 508.8,701.9 509.21,702.63 509.6,703.36 509.99,704.1 510.36,704.85 510.72,705.6 511.07,706.36 511.2,707.21 511.2,708.1 511.2,708.99 511.2,709.86 511.2,710.72 511.2,711.57 511.2,712.41 511.2,713.24 511.2,714.06 511.2,714.88 511.2,715.69 511.2,716.49 511.2,717.29 511.2,718.08 511.2,718.86 511.2,719.64 511.2,720.42 511.2,721.2 511.2,721.97 511.2,722.74 511.2,723.5 511.2,724.27 511.2,725.04" fill="#fff" stroke="#6b6b6b" stroke-width="0.8"/>
<polygon points="509,725.8 509,726.53 509,727.25 509,727.98 509,728.71 509,729.44 509,730.17 509,730.91 509,731.65 509,732.39 509,733.14 509,733.89 509,734.64 509,735.4 509,736.17 509,736.95 509,737.73 509,738.52 509,739.32 509,740.12 509,740.94 509,741.77 509,742.61 509,743.46 509,744.32 508.73,745.07 508.39,745.79 508.03,746.5 507.66,747.21 507.28,747.91 506.89,748.6 506.49,749.29 506.07,749.96 505.64,750.64 505.2,751.3 504.75,751.96 504.29,752.6 503.82,753.24 503.33,753.87 502.84,754.5 502.33,755.11 501.81,755.72 501.29,756.31 500.75,756.9 500.2,757.48 499.64,758.04 499.08,758.6 498.5,759.15 497.91,759.69 497.32,760.21 496.71,760.73 496.1,761.24 495.47,761.73 494.84,762.22 494.2,762.69 493.56,763.15 492.9,763.6 492.24,764.04 491.56,764.47 490.89,764.89 490.2,765.29 489.51,765.68 488.81,766.06 488.1,766.43 487.39,766.79 486.67,767.13 485.95,767.46 485.22,767.78 484.48,768.08 483.74,768.37 482.91,768.4 482.07,768.4 481.24,768.4 480.42,768.4 479.62,768.4 478.81,768.4 478.02,768.4 477.23,768.4 476.45,768.4 475.68,768.4 474.91,768.4 474.15,768.4 473.39,768.4 472.63,768.4 471.88,768.4 471.13,768.4 470.38,768.4 469.63,768.4 468.89,768.4 468.14,768.4 467.4,768.4 466.66,768.4 465.91,768.4 465.17,768.4 464.42,768.4 463.67,768.4 462.92,768.4 462.17,768.4 461.41,768.4 460.65,768.4 459.89,768.4 459.12,768.4 458.35,768.4 457.57,768.4 456.78,768.4 455.99,768.4 455.18,768.4 454.38,768.4 453.56,768.4 452.73,768.4 451.89,768.4 451.06,768.37 450.32,768.08 449.58,767.78 448.85,767.46 448.13,767.13 447.41,766.79 446.7,766.43 445.99,766.06 445.29,765.68 444.6,765.29 443.91,764.89 443.24,764.47 442.56,764.04 441.9,763.6 441.24,763.15 440.6,762.69 439.96,762.22 439.33,761.73 438.7,761.24 438.09,760.73 437.48,760.21 436.89,759.69 436.3,759.15 435.72,758.6 435.16,758.04 434.6,757.48 434.05,756.9 433.51,756.31 432.99,755.72 432.47,755.11 431.96,754.5 431.47,753.87 430.98,753.24 430.51,752.6 430.05,751.96 429.6,751.3 429.16,750.64 428.73,749.96 428.31,749.29 427.91,748.6 427.52,747.91 427.14,747.21 426.77,746.5 426.41,745.79 426.07,745.07 426,744.23 426,743.37 426,742.53 426,741.69 426,740.87 426,740.06 426,739.25 426,738.46 426,737.67 426,736.89 426,736.12 426,735.36 426,734.6 426,733.85 426,733.1 426,732.36 426,731.62 426,730.88 426,730.15 426,729.42 426,728.69 426,727.97 426,727.25 426,726.52 426,725.8 426,725.08 426,724.35 426,723.63 426,722.91 426,722.18 426,721.45 426,720.72 426,719.98 426,719.24 426,718.5 426,717.75 426,717 426,716.24 426,715.48 426,714.71 426,713.93 426,713.14 426,712.35 426,711.54 426,710.73 426,709.91 426,709.07 426,708.23 426,707.37 426.07,706.53 426.41,705.81 426.77,705.1 427.14,704.39 427.52,703.69 427.91,703 428.31,702.31 428.73,701.64 429.16,700.96 429.6,700.3 430.05,699.64 430.51,699 430.98,698.36 431.47,697.73 431.96,697.1 432.47,696.49 432.99,695.88 433.51,695.29 434.05,694.7 434.6,694.12 435.16,693.56 435.72,693 436.3,692.45 436.89,691.91 437.48,691.39 438.09,690.87 438.7,690.36 439.33,689.87 439.96,689.38 440.6,688.91 441.24,688.45 441.9,688 442.56,687.56 443.24,687.13 443.91,686.71 444.6,686.31 445.29,685.92 445.99,685.54 446.7,685.17 447.41,684.81 448.13,684.47 448.85,684.14 449.58,683.82 450.32,683.52 451.09,683.3 451.93,683.3 452.77,683.3 453.59,683.3 454.41,683.3 455.21,683.3 456.01,683.3 456.8,683.3 457.59,683.3 458.37,683.3 459.14,683.3 459.91,683.3 460.67,683.3 461.43,683.3 462.18,683.3 462.93,683.3 463.68,683.3 464.43,683.3 465.17,683.3 465.92,683.3 466.66,683.3 467.4,683.3 468.14,683.3 468.88,683.3 469.63,683.3 470.37,683.3 471.12,683.3 471.87,683.3 472.62,683.3 473.37,683.3 474.13,683.3 474.89,683.3 475.66,683.3 476.43,683.3 477.21,683.3 478,683.3 478.79,683.3 479.59,683.3 480.39,683.3 481.21,683.3 482.03,683.3 482.87,683.3 483.71,683.3 484.48,683.52 485.22,683.82 485.95,684.14 486.67,684.47 487.39,684.81 488.1,685.17 488.81,685.54 489.51,685.92 490.2,686.31 490.89,686.71 491.56,687.13 492.24,687.56 492.9,688 493.56,688.45 494.2,688.91 494.84,689.38 495.47,689.87 496.1,690.36 496.71,690.87 497.32,691.39 497.91,691.91 498.5,692.45 499.08,693 499.64,693.56 500.2,694.12 500.75,694.7 501.29,695.29 501.81,695.88 502.33,696.49 502.84,697.1 503.33,697.73 503.82,698.36 504.29,699 504.75,699.64 505.2,700.3 505.64,700.96 506.07,701.64 506.49,702.31 506.89,703 507.28,703.69 507.66,704.39 508.03,705.1 508.39,705.81 508.73,706.53 509,707.28 509,708.14 509,708.99 509,709.83 509,710.66 509,711.48 509,712.28 509,713.08 509,713.87 509,714.65 509,715.43 509,716.2 509,716.96 509,717.71 509,718.46 509,719.21 509,719.95 509,720.69 509,721.43 509,722.16 509,722.89 509,723.62 509,724.35 509,725.07" fill="none" stroke="#6b6b6b" stroke-width="0.7"/>
<polygon points="506.6,729.93 506.6,731.84 506.6,733.78 506.6,735.76 506.6,737.79 506.6,739.88 506.6,742.04 506.47,744.23 505.54,746.08 504.53,747.88 503.43,749.64 502.24,751.34 500.98,752.98 492.78,744.96 493.57,743.87 494.31,742.74 495,741.59 495.65,740.41 496.24,739.2 496.78,737.97 497.27,736.72 497.7,735.44 498.08,734.15 498.41,732.85 498.68,731.53 498.89,730.2" fill="#fff" stroke="#5e5e5e" stroke-width="0.85" stroke-linejoin="round"/>
<path d="M 505.06 733.8 A 38.5 38.5 0 0 1 499.69 746.77" fill="none" stroke="#5e5e5e" stroke-width="0.8" stroke-dasharray="2.6 2"/>
<polygon points="494.58,759.38 492.94,760.64 491.24,761.83 489.48,762.93 487.68,763.94 485.83,764.87 483.93,765.71 481.84,766 479.69,766 477.61,766 475.59,766 473.6,766 471.63,766 471.8,757.29 473.13,757.08 474.45,756.81 475.75,756.48 477.04,756.1 478.32,755.67 479.57,755.18 480.8,754.64 482.01,754.05 483.19,753.4 484.34,752.71 485.47,751.97 486.56,751.18" fill="#fff" stroke="#5e5e5e" stroke-width="0.85" stroke-linejoin="round"/>
<path d="M 488.37 758.09 A 38.5 38.5 0 0 1 475.4 763.46" fill="none" stroke="#5e5e5e" stroke-width="0.8" stroke-dasharray="2.6 2"/>
<polygon points="463.17,766 461.2,766 459.21,766 457.19,766 455.11,766 452.96,766 450.87,765.71 448.97,764.87 447.12,763.94 445.32,762.93 443.56,761.83 441.86,760.64 440.22,759.38 448.24,751.18 449.33,751.97 450.46,752.71 451.61,753.4 452.79,754.05 454,754.64 455.23,755.18 456.48,755.67 457.76,756.1 459.05,756.48 460.35,756.81 461.67,757.08 463,757.29" fill="#fff" stroke="#5e5e5e" stroke-width="0.85" stroke-linejoin="round"/>
<path d="M 459.4 763.46 A 38.5 38.5 0 0 1 446.43 758.09" fill="none" stroke="#5e5e5e" stroke-width="0.8" stroke-dasharray="2.6 2"/>
<polygon points="433.82,752.98 432.56,751.34 431.37,749.64 430.27,747.88 429.26,746.08 428.44,744.17 428.4,741.95 428.4,739.8 428.4,737.73 428.4,735.71 428.4,733.74 428.4,731.81 428.4,729.91 435.91,730.2 436.12,731.53 436.39,732.85 436.72,734.15 437.1,735.44 437.53,736.72 438.02,737.97 438.56,739.2 439.15,740.41 439.8,741.59 440.49,742.74 441.23,743.87 442.02,744.96" fill="#fff" stroke="#5e5e5e" stroke-width="0.85" stroke-linejoin="round"/>
<path d="M 435.11 746.77 A 38.5 38.5 0 0 1 429.74 733.8" fill="none" stroke="#5e5e5e" stroke-width="0.8" stroke-dasharray="2.6 2"/>
<polygon points="428.4,721.69 428.4,719.79 428.4,717.86 428.4,715.89 428.4,713.87 428.4,711.8 428.4,709.65 428.44,707.43 429.26,705.52 430.27,703.72 431.37,701.96 432.56,700.26 433.82,698.62 442.02,706.64 441.23,707.73 440.49,708.86 439.8,710.01 439.15,711.19 438.56,712.4 438.02,713.63 437.53,714.88 437.1,716.16 436.72,717.45 436.39,718.75 436.12,720.07 435.91,721.4" fill="#fff" stroke="#5e5e5e" stroke-width="0.85" stroke-linejoin="round"/>
<path d="M 429.74 717.8 A 38.5 38.5 0 0 1 435.11 704.83" fill="none" stroke="#5e5e5e" stroke-width="0.8" stroke-dasharray="2.6 2"/>
<polygon points="440.22,692.22 441.86,690.96 443.56,689.77 445.32,688.67 447.12,687.66 448.97,686.73 450.87,685.89 453,685.7 455.14,685.7 457.21,685.7 459.24,685.7 461.22,685.7 463.18,685.7 463,694.31 461.67,694.52 460.35,694.79 459.05,695.12 457.76,695.5 456.48,695.93 455.23,696.42 454,696.96 452.79,697.55 451.61,698.2 450.46,698.89 449.33,699.63 448.24,700.42" fill="#fff" stroke="#5e5e5e" stroke-width="0.85" stroke-linejoin="round"/>
<path d="M 446.43 693.51 A 38.5 38.5 0 0 1 459.4 688.14" fill="none" stroke="#5e5e5e" stroke-width="0.8" stroke-dasharray="2.6 2"/>
<polygon points="471.62,685.7 473.58,685.7 475.56,685.7 477.59,685.7 479.66,685.7 481.8,685.7 483.93,685.89 485.83,686.73 487.68,687.66 489.48,688.67 491.24,689.77 492.94,690.96 494.58,692.22 486.56,700.42 485.47,699.63 484.34,698.89 483.19,698.2 482.01,697.55 480.8,696.96 479.57,696.42 478.32,695.93 477.04,695.5 475.75,695.12 474.45,694.79 473.13,694.52 471.8,694.31" fill="#fff" stroke="#5e5e5e" stroke-width="0.85" stroke-linejoin="round"/>
<path d="M 475.4 688.14 A 38.5 38.5 0 0 1 488.37 693.51" fill="none" stroke="#5e5e5e" stroke-width="0.8" stroke-dasharray="2.6 2"/>
<polygon points="500.98,698.62 502.24,700.26 503.43,701.96 504.53,703.72 505.54,705.52 506.47,707.37 506.6,709.56 506.6,711.72 506.6,713.81 506.6,715.84 506.6,717.82 506.6,719.76 506.6,721.67 498.89,721.4 498.68,720.07 498.41,718.75 498.08,717.45 497.7,716.16 497.27,714.88 496.78,713.63 496.24,712.4 495.65,711.19 495,710.01 494.31,708.86 493.57,707.73 492.78,706.64" fill="#fff" stroke="#5e5e5e" stroke-width="0.85" stroke-linejoin="round"/>
<path d="M 499.69 704.83 A 38.5 38.5 0 0 1 505.06 717.8" fill="none" stroke="#5e5e5e" stroke-width="0.8" stroke-dasharray="2.6 2"/>
<circle cx="506.2" cy="725.8" r="2.4" fill="#fff" stroke="#6b6b6b" stroke-width="0.8"/>
<circle cx="506.2" cy="725.8" r="0.6" fill="#777" stroke="#6b6b6b" stroke-width="0.3"/>
<circle cx="493.92" cy="752.32" r="2.4" fill="#fff" stroke="#6b6b6b" stroke-width="0.8"/>
<circle cx="493.92" cy="752.32" r="0.6" fill="#777" stroke="#6b6b6b" stroke-width="0.3"/>
<circle cx="467.4" cy="764.6" r="2.4" fill="#fff" stroke="#6b6b6b" stroke-width="0.8"/>
<circle cx="467.4" cy="764.6" r="0.6" fill="#777" stroke="#6b6b6b" stroke-width="0.3"/>
<circle cx="440.88" cy="752.32" r="2.4" fill="#fff" stroke="#6b6b6b" stroke-width="0.8"/>
<circle cx="440.88" cy="752.32" r="0.6" fill="#777" stroke="#6b6b6b" stroke-width="0.3"/>
<circle cx="428.6" cy="725.8" r="2.4" fill="#fff" stroke="#6b6b6b" stroke-width="0.8"/>
<circle cx="428.6" cy="725.8" r="0.6" fill="#777" stroke="#6b6b6b" stroke-width="0.3"/>
<circle cx="440.88" cy="699.28" r="2.4" fill="#fff" stroke="#6b6b6b" stroke-width="0.8"/>
<circle cx="440.88" cy="699.28" r="0.6" fill="#777" stroke="#6b6b6b" stroke-width="0.3"/>
<circle cx="467.4" cy="687" r="2.4" fill="#fff" stroke="#6b6b6b" stroke-width="0.8"/>
<circle cx="467.4" cy="687" r="0.6" fill="#777" stroke="#6b6b6b" stroke-width="0.3"/>
<circle cx="493.92" cy="699.28" r="2.4" fill="#fff" stroke="#6b6b6b" stroke-width="0.8"/>
<circle cx="493.92" cy="699.28" r="0.6" fill="#777" stroke="#6b6b6b" stroke-width="0.3"/>
<circle cx="467.4" cy="725.8" r="29.6" fill="#fff" stroke="#6b6b6b" stroke-width="0.8"/>
<circle cx="467.4" cy="725.8" r="28.1" fill="none" stroke="#6b6b6b" stroke-width="0.8"/>
<line x1="418" y1="725.8" x2="518" y2="725.8" stroke="#6b6b6b" stroke-width="0.8" stroke-dasharray="3 2.5"/>
<line x1="467.4" y1="679.5" x2="467.4" y2="772" stroke="#6b6b6b" stroke-width="0.8" stroke-dasharray="3 2.5"/>
<text x="479.6" y="834.3" font-size="12.8" text-anchor="middle" fill="#262626" stroke="#262626" stroke-width="0.22" font-family="Liberation Sans">NMRV110-130</text>
<g transform="translate(659.5 700.8) scale(1.19)">
<path d="M -26.8 45 A 36.5 36.5 0 1 1 26.8 45" fill="#fff" stroke="#6b6b6b" stroke-width="0.7983193277310925"/>
<path d="M -12 -3.5 A 26.9 26.9 0 0 1 12 -3.5" fill="none" stroke="#6b6b6b" stroke-width="0.7983193277310925"/>
<path d="M -18.5 -11.2 L -12.2 0 M -15.8 -13.2 L -9.6 0" fill="none" stroke="#6b6b6b" stroke-width="0.7983193277310925"/>
<path d="M 18.5 -11.2 L 12.2 0 M 15.8 -13.2 L 9.6 0" fill="none" stroke="#6b6b6b" stroke-width="0.7983193277310925"/>
<path d="M -25.7 0 V -2 Q -23 -5 -20.5 -3 Q -18 -5 -15.2 -2 V 0" fill="none" stroke="#6b6b6b" stroke-width="0.7983193277310925"/>
<path d="M 25.7 0 V -2 Q 23 -5 20.5 -3 Q 18 -5 15.2 -2 V 0" fill="none" stroke="#6b6b6b" stroke-width="0.7983193277310925"/>
<rect x="-30.6" y="18.6" width="4" height="4.5" fill="none" stroke="#6b6b6b" stroke-width="0.7983193277310925"/>
<rect x="26.6" y="18.6" width="4" height="4.5" fill="none" stroke="#6b6b6b" stroke-width="0.7983193277310925"/>
<path d="M -15.5 -14.5 V -24.3 H 15.5 V -14.5" fill="none" stroke="#6b6b6b" stroke-width="0.7983193277310925"/>
<path d="M -15.5 -22.6 H 15.5" fill="none" stroke="#6b6b6b" stroke-width="0.7983193277310925"/>
<path d="M -11 -14.2 V -21 H 11 V -14.2" fill="none" stroke="#6b6b6b" stroke-width="0.7983193277310925"/>
<path d="M -13.2 -22.6 V -16 M 13.2 -22.6 V -16" fill="none" stroke="#6b6b6b" stroke-width="0.7983193277310925"/>
<rect x="-26.8" y="0" width="53.6" height="30.1" fill="#fff" stroke="#6b6b6b" stroke-width="0.7983193277310925"/>
<line x1="-28.6" y1="30.1" x2="-28.6" y2="89.4" stroke="#6b6b6b" stroke-width="0.7983193277310925"/>
<line x1="28.6" y1="30.1" x2="28.6" y2="89.4" stroke="#6b6b6b" stroke-width="0.7983193277310925"/>
<line x1="-26.8" y1="30.1" x2="-26.8" y2="89.4" stroke="#6b6b6b" stroke-width="0.7983193277310925"/>
<line x1="26.8" y1="30.1" x2="26.8" y2="89.4" stroke="#6b6b6b" stroke-width="0.7983193277310925"/>
<rect x="-25.7" y="0" width="10.5" height="89.4" fill="none" stroke="#6b6b6b" stroke-width="0.7983193277310925"/>
<rect x="-23.85" y="2.2" width="6.8" height="7.2" fill="none" stroke="#6b6b6b" stroke-width="0.7983193277310925" rx="1.2"/>
<rect x="-23.85" y="20.4" width="6.8" height="7.2" fill="none" stroke="#6b6b6b" stroke-width="0.7983193277310925" rx="1.2"/>
<circle cx="-20.45" cy="14.4" r="2.7" fill="none" stroke="#6b6b6b" stroke-width="0.7983193277310925"/>
<line x1="-24.05" y1="14.4" x2="-16.85" y2="14.4" stroke="#6b6b6b" stroke-width="0.638655462184874"/>
<line x1="-20.45" y1="10.8" x2="-20.45" y2="18" stroke="#6b6b6b" stroke-width="0.638655462184874"/>
<rect x="-23.65" y="65.6" width="6.4" height="5.6" fill="none" stroke="#6b6b6b" stroke-width="0.7983193277310925" rx="1"/>
<rect x="-23.65" y="81.6" width="6.4" height="5.6" fill="none" stroke="#6b6b6b" stroke-width="0.7983193277310925" rx="1"/>
<circle cx="-20.45" cy="76.4" r="2.7" fill="none" stroke="#6b6b6b" stroke-width="0.7983193277310925"/>
<line x1="-24.05" y1="76.4" x2="-16.85" y2="76.4" stroke="#6b6b6b" stroke-width="0.638655462184874"/>
<line x1="-20.45" y1="72.8" x2="-20.45" y2="80" stroke="#6b6b6b" stroke-width="0.638655462184874"/>
<rect x="15.2" y="0" width="10.5" height="89.4" fill="none" stroke="#6b6b6b" stroke-width="0.7983193277310925"/>
<rect x="17.05" y="2.2" width="6.8" height="7.2" fill="none" stroke="#6b6b6b" stroke-width="0.7983193277310925" rx="1.2"/>
<rect x="17.05" y="20.4" width="6.8" height="7.2" fill="none" stroke="#6b6b6b" stroke-width="0.7983193277310925" rx="1.2"/>
<circle cx="20.45" cy="14.4" r="2.7" fill="none" stroke="#6b6b6b" stroke-width="0.7983193277310925"/>
<line x1="16.85" y1="14.4" x2="24.05" y2="14.4" stroke="#6b6b6b" stroke-width="0.638655462184874"/>
<line x1="20.45" y1="10.8" x2="20.45" y2="18" stroke="#6b6b6b" stroke-width="0.638655462184874"/>
<rect x="17.25" y="65.6" width="6.4" height="5.6" fill="none" stroke="#6b6b6b" stroke-width="0.7983193277310925" rx="1"/>
<rect x="17.25" y="81.6" width="6.4" height="5.6" fill="none" stroke="#6b6b6b" stroke-width="0.7983193277310925" rx="1"/>
<circle cx="20.45" cy="76.4" r="2.7" fill="none" stroke="#6b6b6b" stroke-width="0.7983193277310925"/>
<line x1="16.85" y1="76.4" x2="24.05" y2="76.4" stroke="#6b6b6b" stroke-width="0.638655462184874"/>
<line x1="20.45" y1="72.8" x2="20.45" y2="80" stroke="#6b6b6b" stroke-width="0.638655462184874"/>
<path d="M -16.5 30.1 A 16.5 16.5 0 0 1 -16.5 30.1" fill="none" stroke="#6b6b6b" stroke-width="0.7983193277310925"/>
<circle cx="0" cy="20.6" r="17.2" fill="#fff" stroke="#6b6b6b" stroke-width="0.7983193277310925"/>
<circle cx="0" cy="20.6" r="14.4" fill="none" stroke="#6b6b6b" stroke-width="0.7983193277310925"/>
<line x1="-15.2" y1="42.7" x2="15.2" y2="42.7" stroke="#6b6b6b" stroke-width="0.7983193277310925"/>
<line x1="-15.2" y1="52.3" x2="15.2" y2="52.3" stroke="#6b6b6b" stroke-width="0.7983193277310925"/>
<rect x="-12.9" y="54.7" width="2.6" height="33.8" fill="none" stroke="#6b6b6b" stroke-width="0.7983193277310925" rx="0.6"/>
<rect x="-7.1" y="54.7" width="2.6" height="33.8" fill="none" stroke="#6b6b6b" stroke-width="0.7983193277310925" rx="0.6"/>
<rect x="-1.3" y="54.7" width="2.6" height="33.8" fill="none" stroke="#6b6b6b" stroke-width="0.7983193277310925" rx="0.6"/>
<rect x="4.5" y="54.7" width="2.6" height="33.8" fill="none" stroke="#6b6b6b" stroke-width="0.7983193277310925" rx="0.6"/>
<rect x="10.3" y="54.7" width="2.6" height="33.8" fill="none" stroke="#6b6b6b" stroke-width="0.7983193277310925" rx="0.6"/>
<line x1="-26.8" y1="89.4" x2="26.8" y2="89.4" stroke="#6b6b6b" stroke-width="0.7983193277310925"/>
</g>
<rect x="599.2" y="725.7" width="28.8" height="75.7" fill="#fff" stroke="#6b6b6b" stroke-width="0.8"/>
<line x1="628" y1="738.6" x2="599.2" y2="738.6" stroke="#6b6b6b" stroke-width="0.8"/>
<line x1="628" y1="751.2" x2="599.2" y2="751.2" stroke="#6b6b6b" stroke-width="0.8"/>
<line x1="628" y1="763.6" x2="599.2" y2="763.6" stroke="#6b6b6b" stroke-width="0.8"/>
<line x1="628" y1="776" x2="599.2" y2="776" stroke="#6b6b6b" stroke-width="0.8"/>
<line x1="628" y1="788.6" x2="599.2" y2="788.6" stroke="#6b6b6b" stroke-width="0.8"/>
<line x1="623.3" y1="725.7" x2="623.3" y2="738.6" stroke="#6b6b6b" stroke-width="0.8"/>
<line x1="623.3" y1="751.2" x2="623.3" y2="763.6" stroke="#6b6b6b" stroke-width="0.8"/>
<line x1="623.3" y1="776" x2="623.3" y2="788.6" stroke="#6b6b6b" stroke-width="0.8"/>
<rect x="593.1" y="719.9" width="6.5" height="85.7" fill="#fff" stroke="#6b6b6b" stroke-width="0.8"/>
<line x1="596.5" y1="733" x2="596.5" y2="798" stroke="#6b6b6b" stroke-width="0.8" stroke-dasharray="3 2"/>
<line x1="593" y1="763" x2="665" y2="763" stroke="#6b6b6b" stroke-width="0.8" stroke-dasharray="3 2.5"/>
<line x1="659.5" y1="664" x2="659.5" y2="812" stroke="#6b6b6b" stroke-width="0.8" stroke-dasharray="3 2.5"/>
<line x1="612" y1="724.5" x2="708" y2="724.5" stroke="#6b6b6b" stroke-width="0.8" stroke-dasharray="3 2.5"/>
<text x="569.3" y="760.6" font-size="9.2" text-anchor="start" fill="#262626" stroke="#262626" stroke-width="0.17" font-family="Liberation Sans">B</text>
<polyline points="578.2,753.9 577.47,755.38" fill="none" stroke="#262626" stroke-width="0.8" stroke-linecap="square" stroke-linejoin="miter"/>
<polyline points="575.54,755.38 575.54,761.3" fill="none" stroke="#262626" stroke-width="0.8" stroke-linecap="square" stroke-linejoin="miter"/>
<polyline points="575.54,755.38 581.46,755.38 581.46,761 580.42,760.7" fill="none" stroke="#262626" stroke-width="0.8" stroke-linecap="square" stroke-linejoin="miter"/>
<polyline points="577.47,757.3 579.68,757.3 579.68,759.52 577.47,759.52 577.47,757.3" fill="none" stroke="#262626" stroke-width="0.8" stroke-linecap="square" stroke-linejoin="miter"/>
<line x1="569" y1="763" x2="586" y2="763" stroke="#6b6b6b" stroke-width="0.8"/>
<polygon points="588,763 585.4,764.1 585.4,761.9" fill="#555"/>
<text x="656.8" y="834.3" font-size="12.8" text-anchor="middle" fill="#262626" stroke="#262626" stroke-width="0.22" font-family="Liberation Sans">NMRV...-F2</text>
</svg></body></html>
